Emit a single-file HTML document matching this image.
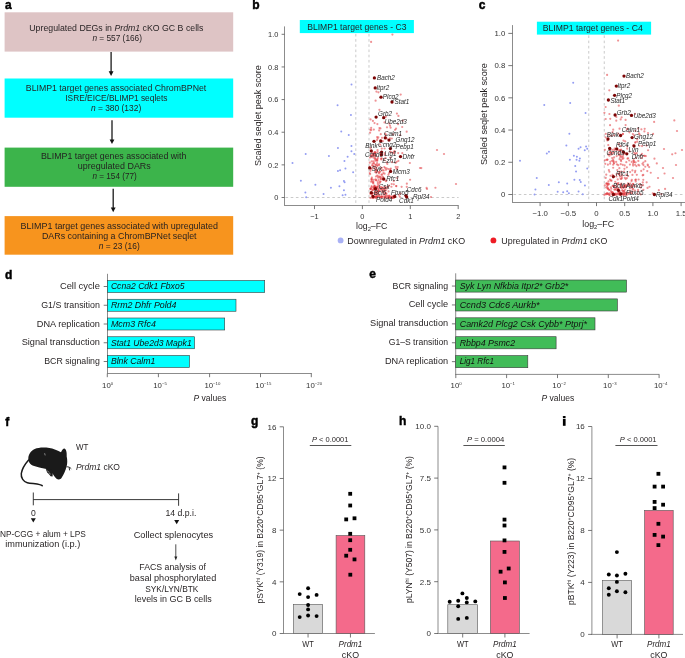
<!DOCTYPE html>
<html><head><meta charset="utf-8"><title>Figure</title>
<style>
html,body{margin:0;padding:0;background:#fff;width:685px;height:658px;overflow:hidden}
svg{display:block;will-change:transform}
text{font-family:"Liberation Sans",sans-serif}
</style></head><body>
<svg width="685" height="658" viewBox="0 0 685 658">
<rect width="685" height="658" fill="#fff"/>
<text x="4.90" y="9.10" font-size="12" text-anchor="start" fill="#000" font-weight="bold" stroke="#000" stroke-width="0.45">a</text>
<text x="252.20" y="9.00" font-size="12" text-anchor="start" fill="#000" font-weight="bold" stroke="#000" stroke-width="0.45">b</text>
<text x="478.70" y="9.20" font-size="12" text-anchor="start" fill="#000" font-weight="bold" stroke="#000" stroke-width="0.45">c</text>
<text x="5.10" y="278.70" font-size="12" text-anchor="start" fill="#000" font-weight="bold" stroke="#000" stroke-width="0.45">d</text>
<text x="369.30" y="277.60" font-size="12" text-anchor="start" fill="#000" font-weight="bold" stroke="#000" stroke-width="0.45">e</text>
<text x="5.30" y="426.10" font-size="12" text-anchor="start" fill="#000" font-weight="bold" stroke="#000" stroke-width="0.45">f</text>
<text x="250.90" y="424.80" font-size="12" text-anchor="start" fill="#000" font-weight="bold" stroke="#000" stroke-width="0.45">g</text>
<text x="398.90" y="425.00" font-size="12" text-anchor="start" fill="#000" font-weight="bold" stroke="#000" stroke-width="0.45">h</text>
<rect x="562.9" y="416.0" width="2.7" height="2.0" rx="0.6" fill="#000"/><rect x="562.9" y="418.8" width="2.7" height="7.0" fill="#000"/>
<rect x="4.60" y="12.30" width="228.60" height="39.30" fill="#dec4c5"/>
<rect x="4.60" y="78.50" width="228.60" height="39.20" fill="#00ffff"/>
<rect x="4.60" y="147.60" width="228.60" height="39.20" fill="#3cb44b"/>
<rect x="4.60" y="216.10" width="228.60" height="38.60" fill="#f7941e"/>
<text x="116.35" y="30.70" font-size="8.8" text-anchor="middle" fill="#231f20" textLength="174.1" lengthAdjust="spacingAndGlyphs">Upregulated DEGs in <tspan font-style="italic">Prdm1</tspan> cKO GC B cells</text>
<text x="117.20" y="40.90" font-size="8.8" text-anchor="middle" fill="#231f20" textLength="49.6" lengthAdjust="spacingAndGlyphs"><tspan font-style="italic">n</tspan> = 557 (166)</text>
<text x="116.05" y="91.30" font-size="8.8" text-anchor="middle" fill="#231f20" textLength="180.5" lengthAdjust="spacingAndGlyphs">BLIMP1 target genes associated ChromBPNet</text>
<text x="116.35" y="101.10" font-size="8.8" text-anchor="middle" fill="#231f20" textLength="102.1" lengthAdjust="spacingAndGlyphs">ISRE/EICE/BLIMP1 seqlets</text>
<text x="116.05" y="111.20" font-size="8.8" text-anchor="middle" fill="#231f20" textLength="50.3" lengthAdjust="spacingAndGlyphs"><tspan font-style="italic">n</tspan> = 380 (132)</text>
<text x="113.70" y="159.30" font-size="8.8" text-anchor="middle" fill="#231f20" textLength="145.4" lengthAdjust="spacingAndGlyphs">BLIMP1 target genes associated with</text>
<text x="114.30" y="169.10" font-size="8.8" text-anchor="middle" fill="#231f20" textLength="73.0" lengthAdjust="spacingAndGlyphs">upregulated DARs</text>
<text x="114.60" y="179.20" font-size="8.8" text-anchor="middle" fill="#231f20" textLength="44.4" lengthAdjust="spacingAndGlyphs"><tspan font-style="italic">n</tspan> = 154 (77)</text>
<text x="119.30" y="228.80" font-size="8.8" text-anchor="middle" fill="#231f20" textLength="197.4" lengthAdjust="spacingAndGlyphs">BLIMP1 target genes associated with upregulated</text>
<text x="119.25" y="238.90" font-size="8.8" text-anchor="middle" fill="#231f20" textLength="154.7" lengthAdjust="spacingAndGlyphs">DARs containing a ChromBPNet seqlet</text>
<text x="119.25" y="249.10" font-size="8.8" text-anchor="middle" fill="#231f20" textLength="40.9" lengthAdjust="spacingAndGlyphs"><tspan font-style="italic">n</tspan> = 23 (16)</text>
<line x1="111.10" y1="52.00" x2="111.10" y2="72.90" stroke="#1a1a1a" stroke-width="1.3"/>
<path d="M108.70,71.30 L113.50,71.30 L111.10,75.90 Z" fill="#111"/>
<line x1="112.00" y1="120.30" x2="112.00" y2="141.00" stroke="#1a1a1a" stroke-width="1.3"/>
<path d="M109.60,139.40 L114.40,139.40 L112.00,144.00 Z" fill="#111"/>
<line x1="113.20" y1="188.80" x2="113.20" y2="209.20" stroke="#1a1a1a" stroke-width="1.3"/>
<path d="M110.80,207.60 L115.60,207.60 L113.20,212.20 Z" fill="#111"/>
<rect x="299.80" y="20.00" width="114.10" height="13.10" fill="#00ffff"/>
<text x="356.85" y="30.30" font-size="8.6" text-anchor="middle" fill="#231f20" textLength="99.3" lengthAdjust="spacingAndGlyphs">BLIMP1 target genes - C3</text>
<line x1="355.81" y1="33.90" x2="355.81" y2="205.50" stroke="#bdbdbd" stroke-width="0.8" stroke-dasharray="2.6 2.6"/>
<line x1="368.99" y1="33.90" x2="368.99" y2="205.50" stroke="#bdbdbd" stroke-width="0.8" stroke-dasharray="2.6 2.6"/>
<line x1="285.50" y1="197.50" x2="458.60" y2="197.50" stroke="#bdbdbd" stroke-width="0.8" stroke-dasharray="2.6 2.6"/>
<circle cx="337.59" cy="105.35" r="1.0" fill="#949df2"/>
<circle cx="350.94" cy="115.03" r="1.0" fill="#949df2"/>
<circle cx="341.26" cy="131.39" r="1.0" fill="#949df2"/>
<circle cx="348.77" cy="135.07" r="1.0" fill="#949df2"/>
<circle cx="337.92" cy="147.92" r="1.0" fill="#949df2"/>
<circle cx="351.44" cy="145.92" r="1.0" fill="#949df2"/>
<circle cx="351.44" cy="151.26" r="1.0" fill="#949df2"/>
<circle cx="354.28" cy="153.93" r="1.0" fill="#949df2"/>
<circle cx="305.70" cy="154.10" r="1.0" fill="#949df2"/>
<circle cx="328.91" cy="155.93" r="1.0" fill="#949df2"/>
<circle cx="347.60" cy="156.77" r="1.0" fill="#949df2"/>
<circle cx="292.51" cy="162.95" r="1.0" fill="#949df2"/>
<circle cx="344.43" cy="160.94" r="1.0" fill="#949df2"/>
<circle cx="345.43" cy="168.46" r="1.0" fill="#949df2"/>
<circle cx="340.09" cy="170.13" r="1.0" fill="#949df2"/>
<circle cx="337.92" cy="170.96" r="1.0" fill="#949df2"/>
<circle cx="353.11" cy="172.13" r="1.0" fill="#949df2"/>
<circle cx="300.86" cy="180.64" r="1.0" fill="#949df2"/>
<circle cx="343.93" cy="180.98" r="1.0" fill="#949df2"/>
<circle cx="344.60" cy="182.31" r="1.0" fill="#949df2"/>
<circle cx="315.38" cy="184.82" r="1.0" fill="#949df2"/>
<circle cx="330.91" cy="187.65" r="1.0" fill="#949df2"/>
<circle cx="339.42" cy="186.32" r="1.0" fill="#949df2"/>
<circle cx="343.93" cy="190.16" r="1.0" fill="#949df2"/>
<circle cx="305.37" cy="192.50" r="1.0" fill="#949df2"/>
<circle cx="323.56" cy="194.00" r="1.0" fill="#949df2"/>
<circle cx="342.60" cy="195.17" r="1.0" fill="#949df2"/>
<circle cx="345.43" cy="194.67" r="1.0" fill="#949df2"/>
<circle cx="306.20" cy="197.17" r="1.0" fill="#949df2"/>
<circle cx="351.50" cy="84.60" r="1.0" fill="#949df2"/>
<circle cx="388.30" cy="169.05" r="1.1" fill="#e23a40" fill-opacity="0.55"/>
<circle cx="373.48" cy="187.29" r="1.1" fill="#e23a40" fill-opacity="0.55"/>
<circle cx="385.94" cy="116.71" r="1.1" fill="#e23a40" fill-opacity="0.55"/>
<circle cx="375.50" cy="197.16" r="1.1" fill="#e23a40" fill-opacity="0.55"/>
<circle cx="375.43" cy="165.03" r="1.1" fill="#e23a40" fill-opacity="0.55"/>
<circle cx="371.75" cy="194.20" r="1.1" fill="#e23a40" fill-opacity="0.55"/>
<circle cx="370.55" cy="119.39" r="1.1" fill="#e23a40" fill-opacity="0.55"/>
<circle cx="384.74" cy="153.21" r="1.1" fill="#e23a40" fill-opacity="0.55"/>
<circle cx="379.08" cy="173.45" r="1.1" fill="#e23a40" fill-opacity="0.55"/>
<circle cx="373.07" cy="182.63" r="1.1" fill="#e23a40" fill-opacity="0.55"/>
<circle cx="374.04" cy="193.00" r="1.1" fill="#e23a40" fill-opacity="0.55"/>
<circle cx="382.35" cy="179.37" r="1.1" fill="#e23a40" fill-opacity="0.55"/>
<circle cx="390.59" cy="127.70" r="1.1" fill="#e23a40" fill-opacity="0.55"/>
<circle cx="373.34" cy="155.90" r="1.1" fill="#e23a40" fill-opacity="0.55"/>
<circle cx="378.03" cy="186.50" r="1.1" fill="#e23a40" fill-opacity="0.55"/>
<circle cx="372.07" cy="195.50" r="1.1" fill="#e23a40" fill-opacity="0.55"/>
<circle cx="370.03" cy="157.54" r="1.1" fill="#e23a40" fill-opacity="0.55"/>
<circle cx="370.74" cy="168.56" r="1.1" fill="#e23a40" fill-opacity="0.55"/>
<circle cx="421.30" cy="168.08" r="1.1" fill="#e23a40" fill-opacity="0.55"/>
<circle cx="386.51" cy="162.36" r="1.1" fill="#e23a40" fill-opacity="0.55"/>
<circle cx="384.81" cy="138.40" r="1.1" fill="#e23a40" fill-opacity="0.55"/>
<circle cx="383.99" cy="160.01" r="1.1" fill="#e23a40" fill-opacity="0.55"/>
<circle cx="377.65" cy="152.07" r="1.1" fill="#e23a40" fill-opacity="0.55"/>
<circle cx="370.38" cy="188.93" r="1.1" fill="#e23a40" fill-opacity="0.55"/>
<circle cx="369.67" cy="166.90" r="1.1" fill="#e23a40" fill-opacity="0.55"/>
<circle cx="382.83" cy="141.16" r="1.1" fill="#e23a40" fill-opacity="0.55"/>
<circle cx="381.33" cy="159.40" r="1.1" fill="#e23a40" fill-opacity="0.55"/>
<circle cx="393.06" cy="134.39" r="1.1" fill="#e23a40" fill-opacity="0.55"/>
<circle cx="379.41" cy="195.05" r="1.1" fill="#e23a40" fill-opacity="0.55"/>
<circle cx="380.44" cy="128.41" r="1.1" fill="#e23a40" fill-opacity="0.55"/>
<circle cx="383.29" cy="190.00" r="1.1" fill="#e23a40" fill-opacity="0.55"/>
<circle cx="374.52" cy="123.11" r="1.1" fill="#e23a40" fill-opacity="0.55"/>
<circle cx="385.95" cy="193.55" r="1.1" fill="#e23a40" fill-opacity="0.55"/>
<circle cx="370.95" cy="155.48" r="1.1" fill="#e23a40" fill-opacity="0.55"/>
<circle cx="373.56" cy="155.33" r="1.1" fill="#e23a40" fill-opacity="0.55"/>
<circle cx="372.07" cy="165.46" r="1.1" fill="#e23a40" fill-opacity="0.55"/>
<circle cx="385.91" cy="187.22" r="1.1" fill="#e23a40" fill-opacity="0.55"/>
<circle cx="435.43" cy="187.73" r="1.1" fill="#e23a40" fill-opacity="0.55"/>
<circle cx="377.91" cy="188.36" r="1.1" fill="#e23a40" fill-opacity="0.55"/>
<circle cx="377.02" cy="140.11" r="1.1" fill="#e23a40" fill-opacity="0.55"/>
<circle cx="385.45" cy="157.93" r="1.1" fill="#e23a40" fill-opacity="0.55"/>
<circle cx="383.15" cy="187.78" r="1.1" fill="#e23a40" fill-opacity="0.55"/>
<circle cx="377.24" cy="186.43" r="1.1" fill="#e23a40" fill-opacity="0.55"/>
<circle cx="387.08" cy="188.39" r="1.1" fill="#e23a40" fill-opacity="0.55"/>
<circle cx="375.70" cy="159.02" r="1.1" fill="#e23a40" fill-opacity="0.55"/>
<circle cx="372.85" cy="190.08" r="1.1" fill="#e23a40" fill-opacity="0.55"/>
<circle cx="388.00" cy="186.86" r="1.1" fill="#e23a40" fill-opacity="0.55"/>
<circle cx="388.43" cy="174.78" r="1.1" fill="#e23a40" fill-opacity="0.55"/>
<circle cx="390.46" cy="157.63" r="1.1" fill="#e23a40" fill-opacity="0.55"/>
<circle cx="381.17" cy="153.52" r="1.1" fill="#e23a40" fill-opacity="0.55"/>
<circle cx="398.91" cy="194.77" r="1.1" fill="#e23a40" fill-opacity="0.55"/>
<circle cx="396.26" cy="186.04" r="1.1" fill="#e23a40" fill-opacity="0.55"/>
<circle cx="371.23" cy="130.09" r="1.1" fill="#e23a40" fill-opacity="0.55"/>
<circle cx="381.98" cy="196.69" r="1.1" fill="#e23a40" fill-opacity="0.55"/>
<circle cx="426.60" cy="187.90" r="1.1" fill="#e23a40" fill-opacity="0.55"/>
<circle cx="381.82" cy="158.35" r="1.1" fill="#e23a40" fill-opacity="0.55"/>
<circle cx="385.95" cy="190.37" r="1.1" fill="#e23a40" fill-opacity="0.55"/>
<circle cx="393.30" cy="152.48" r="1.1" fill="#e23a40" fill-opacity="0.55"/>
<circle cx="398.39" cy="160.92" r="1.1" fill="#e23a40" fill-opacity="0.55"/>
<circle cx="373.66" cy="166.53" r="1.1" fill="#e23a40" fill-opacity="0.55"/>
<circle cx="376.92" cy="170.09" r="1.1" fill="#e23a40" fill-opacity="0.55"/>
<circle cx="389.98" cy="138.23" r="1.1" fill="#e23a40" fill-opacity="0.55"/>
<circle cx="372.00" cy="193.21" r="1.1" fill="#e23a40" fill-opacity="0.55"/>
<circle cx="398.08" cy="124.17" r="1.1" fill="#e23a40" fill-opacity="0.55"/>
<circle cx="393.83" cy="184.35" r="1.1" fill="#e23a40" fill-opacity="0.55"/>
<circle cx="376.27" cy="167.56" r="1.1" fill="#e23a40" fill-opacity="0.55"/>
<circle cx="371.48" cy="179.38" r="1.1" fill="#e23a40" fill-opacity="0.55"/>
<circle cx="371.72" cy="155.82" r="1.1" fill="#e23a40" fill-opacity="0.55"/>
<circle cx="376.03" cy="191.52" r="1.1" fill="#e23a40" fill-opacity="0.55"/>
<circle cx="383.36" cy="173.12" r="1.1" fill="#e23a40" fill-opacity="0.55"/>
<circle cx="379.04" cy="190.85" r="1.1" fill="#e23a40" fill-opacity="0.55"/>
<circle cx="371.09" cy="181.63" r="1.1" fill="#e23a40" fill-opacity="0.55"/>
<circle cx="381.30" cy="189.67" r="1.1" fill="#e23a40" fill-opacity="0.55"/>
<circle cx="374.74" cy="186.31" r="1.1" fill="#e23a40" fill-opacity="0.55"/>
<circle cx="384.86" cy="196.51" r="1.1" fill="#e23a40" fill-opacity="0.55"/>
<circle cx="400.52" cy="193.57" r="1.1" fill="#e23a40" fill-opacity="0.55"/>
<circle cx="377.23" cy="160.86" r="1.1" fill="#e23a40" fill-opacity="0.55"/>
<circle cx="374.51" cy="152.23" r="1.1" fill="#e23a40" fill-opacity="0.55"/>
<circle cx="371.73" cy="187.17" r="1.1" fill="#e23a40" fill-opacity="0.55"/>
<circle cx="381.94" cy="187.99" r="1.1" fill="#e23a40" fill-opacity="0.55"/>
<circle cx="371.79" cy="179.89" r="1.1" fill="#e23a40" fill-opacity="0.55"/>
<circle cx="371.96" cy="168.67" r="1.1" fill="#e23a40" fill-opacity="0.55"/>
<circle cx="379.58" cy="176.65" r="1.1" fill="#e23a40" fill-opacity="0.55"/>
<circle cx="385.96" cy="169.80" r="1.1" fill="#e23a40" fill-opacity="0.55"/>
<circle cx="398.23" cy="153.12" r="1.1" fill="#e23a40" fill-opacity="0.55"/>
<circle cx="399.79" cy="196.57" r="1.1" fill="#e23a40" fill-opacity="0.55"/>
<circle cx="373.06" cy="165.55" r="1.1" fill="#e23a40" fill-opacity="0.55"/>
<circle cx="378.10" cy="177.74" r="1.1" fill="#e23a40" fill-opacity="0.55"/>
<circle cx="380.90" cy="158.61" r="1.1" fill="#e23a40" fill-opacity="0.55"/>
<circle cx="377.38" cy="124.12" r="1.1" fill="#e23a40" fill-opacity="0.55"/>
<circle cx="374.15" cy="189.03" r="1.1" fill="#e23a40" fill-opacity="0.55"/>
<circle cx="378.26" cy="193.98" r="1.1" fill="#e23a40" fill-opacity="0.55"/>
<circle cx="374.31" cy="163.55" r="1.1" fill="#e23a40" fill-opacity="0.55"/>
<circle cx="377.82" cy="182.20" r="1.1" fill="#e23a40" fill-opacity="0.55"/>
<circle cx="374.87" cy="158.97" r="1.1" fill="#e23a40" fill-opacity="0.55"/>
<circle cx="394.19" cy="153.49" r="1.1" fill="#e23a40" fill-opacity="0.55"/>
<circle cx="382.50" cy="170.31" r="1.1" fill="#e23a40" fill-opacity="0.55"/>
<circle cx="374.77" cy="167.23" r="1.1" fill="#e23a40" fill-opacity="0.55"/>
<circle cx="377.24" cy="166.02" r="1.1" fill="#e23a40" fill-opacity="0.55"/>
<circle cx="376.72" cy="194.42" r="1.1" fill="#e23a40" fill-opacity="0.55"/>
<circle cx="374.29" cy="188.06" r="1.1" fill="#e23a40" fill-opacity="0.55"/>
<circle cx="371.63" cy="178.80" r="1.1" fill="#e23a40" fill-opacity="0.55"/>
<circle cx="380.59" cy="186.83" r="1.1" fill="#e23a40" fill-opacity="0.55"/>
<circle cx="369.69" cy="173.03" r="1.1" fill="#e23a40" fill-opacity="0.55"/>
<circle cx="375.59" cy="179.29" r="1.1" fill="#e23a40" fill-opacity="0.55"/>
<circle cx="397.18" cy="178.07" r="1.1" fill="#e23a40" fill-opacity="0.55"/>
<circle cx="377.82" cy="183.93" r="1.1" fill="#e23a40" fill-opacity="0.55"/>
<circle cx="378.99" cy="196.08" r="1.1" fill="#e23a40" fill-opacity="0.55"/>
<circle cx="394.52" cy="151.00" r="1.1" fill="#e23a40" fill-opacity="0.55"/>
<circle cx="402.71" cy="120.71" r="1.1" fill="#e23a40" fill-opacity="0.55"/>
<circle cx="374.88" cy="186.81" r="1.1" fill="#e23a40" fill-opacity="0.55"/>
<circle cx="384.57" cy="188.74" r="1.1" fill="#e23a40" fill-opacity="0.55"/>
<circle cx="373.62" cy="162.95" r="1.1" fill="#e23a40" fill-opacity="0.55"/>
<circle cx="376.23" cy="172.84" r="1.1" fill="#e23a40" fill-opacity="0.55"/>
<circle cx="374.81" cy="169.02" r="1.1" fill="#e23a40" fill-opacity="0.55"/>
<circle cx="374.80" cy="187.25" r="1.1" fill="#e23a40" fill-opacity="0.55"/>
<circle cx="374.30" cy="186.22" r="1.1" fill="#e23a40" fill-opacity="0.55"/>
<circle cx="379.07" cy="164.27" r="1.1" fill="#e23a40" fill-opacity="0.55"/>
<circle cx="377.65" cy="191.56" r="1.1" fill="#e23a40" fill-opacity="0.55"/>
<circle cx="378.98" cy="185.30" r="1.1" fill="#e23a40" fill-opacity="0.55"/>
<circle cx="379.48" cy="171.94" r="1.1" fill="#e23a40" fill-opacity="0.55"/>
<circle cx="384.66" cy="188.83" r="1.1" fill="#e23a40" fill-opacity="0.55"/>
<circle cx="381.76" cy="167.73" r="1.1" fill="#e23a40" fill-opacity="0.55"/>
<circle cx="380.52" cy="181.61" r="1.1" fill="#e23a40" fill-opacity="0.55"/>
<circle cx="389.27" cy="123.54" r="1.1" fill="#e23a40" fill-opacity="0.55"/>
<circle cx="370.30" cy="193.79" r="1.1" fill="#e23a40" fill-opacity="0.55"/>
<circle cx="370.82" cy="189.17" r="1.1" fill="#e23a40" fill-opacity="0.55"/>
<circle cx="371.15" cy="127.95" r="1.1" fill="#e23a40" fill-opacity="0.55"/>
<circle cx="374.93" cy="152.14" r="1.1" fill="#e23a40" fill-opacity="0.55"/>
<circle cx="373.32" cy="183.47" r="1.1" fill="#e23a40" fill-opacity="0.55"/>
<circle cx="389.04" cy="185.69" r="1.1" fill="#e23a40" fill-opacity="0.55"/>
<circle cx="377.06" cy="163.14" r="1.1" fill="#e23a40" fill-opacity="0.55"/>
<circle cx="377.44" cy="165.04" r="1.1" fill="#e23a40" fill-opacity="0.55"/>
<circle cx="396.02" cy="128.69" r="1.1" fill="#e23a40" fill-opacity="0.55"/>
<circle cx="370.83" cy="188.32" r="1.1" fill="#e23a40" fill-opacity="0.55"/>
<circle cx="406.85" cy="183.67" r="1.1" fill="#e23a40" fill-opacity="0.55"/>
<circle cx="380.74" cy="154.57" r="1.1" fill="#e23a40" fill-opacity="0.55"/>
<circle cx="376.40" cy="160.30" r="1.1" fill="#e23a40" fill-opacity="0.55"/>
<circle cx="385.94" cy="134.77" r="1.1" fill="#e23a40" fill-opacity="0.55"/>
<circle cx="380.10" cy="181.73" r="1.1" fill="#e23a40" fill-opacity="0.55"/>
<circle cx="409.86" cy="162.98" r="1.1" fill="#e23a40" fill-opacity="0.55"/>
<circle cx="384.53" cy="173.67" r="1.1" fill="#e23a40" fill-opacity="0.55"/>
<circle cx="377.22" cy="159.97" r="1.1" fill="#e23a40" fill-opacity="0.55"/>
<circle cx="383.67" cy="170.39" r="1.1" fill="#e23a40" fill-opacity="0.55"/>
<circle cx="389.49" cy="195.67" r="1.1" fill="#e23a40" fill-opacity="0.55"/>
<circle cx="382.02" cy="137.79" r="1.1" fill="#e23a40" fill-opacity="0.55"/>
<circle cx="374.54" cy="187.33" r="1.1" fill="#e23a40" fill-opacity="0.55"/>
<circle cx="396.24" cy="186.12" r="1.1" fill="#e23a40" fill-opacity="0.55"/>
<circle cx="376.19" cy="192.23" r="1.1" fill="#e23a40" fill-opacity="0.55"/>
<circle cx="373.34" cy="188.68" r="1.1" fill="#e23a40" fill-opacity="0.55"/>
<circle cx="377.10" cy="175.58" r="1.1" fill="#e23a40" fill-opacity="0.55"/>
<circle cx="378.18" cy="192.16" r="1.1" fill="#e23a40" fill-opacity="0.55"/>
<circle cx="378.56" cy="180.22" r="1.1" fill="#e23a40" fill-opacity="0.55"/>
<circle cx="394.35" cy="151.94" r="1.1" fill="#e23a40" fill-opacity="0.55"/>
<circle cx="402.31" cy="153.18" r="1.1" fill="#e23a40" fill-opacity="0.55"/>
<circle cx="388.02" cy="195.78" r="1.1" fill="#e23a40" fill-opacity="0.55"/>
<circle cx="374.16" cy="189.43" r="1.1" fill="#e23a40" fill-opacity="0.55"/>
<circle cx="382.40" cy="189.36" r="1.1" fill="#e23a40" fill-opacity="0.55"/>
<circle cx="379.79" cy="197.22" r="1.1" fill="#e23a40" fill-opacity="0.55"/>
<circle cx="373.37" cy="154.97" r="1.1" fill="#e23a40" fill-opacity="0.55"/>
<circle cx="372.34" cy="190.27" r="1.1" fill="#e23a40" fill-opacity="0.55"/>
<circle cx="377.19" cy="171.50" r="1.1" fill="#e23a40" fill-opacity="0.55"/>
<circle cx="372.27" cy="181.58" r="1.1" fill="#e23a40" fill-opacity="0.55"/>
<circle cx="390.01" cy="169.30" r="1.1" fill="#e23a40" fill-opacity="0.55"/>
<circle cx="385.20" cy="168.02" r="1.1" fill="#e23a40" fill-opacity="0.55"/>
<circle cx="380.19" cy="144.55" r="1.1" fill="#e23a40" fill-opacity="0.55"/>
<circle cx="379.17" cy="130.46" r="1.1" fill="#e23a40" fill-opacity="0.55"/>
<circle cx="382.11" cy="174.69" r="1.1" fill="#e23a40" fill-opacity="0.55"/>
<circle cx="375.62" cy="152.71" r="1.1" fill="#e23a40" fill-opacity="0.55"/>
<circle cx="378.90" cy="191.29" r="1.1" fill="#e23a40" fill-opacity="0.55"/>
<circle cx="397.22" cy="169.01" r="1.1" fill="#e23a40" fill-opacity="0.55"/>
<circle cx="395.55" cy="162.93" r="1.1" fill="#e23a40" fill-opacity="0.55"/>
<circle cx="375.89" cy="176.50" r="1.1" fill="#e23a40" fill-opacity="0.55"/>
<circle cx="391.68" cy="184.01" r="1.1" fill="#e23a40" fill-opacity="0.55"/>
<circle cx="375.33" cy="160.73" r="1.1" fill="#e23a40" fill-opacity="0.55"/>
<circle cx="384.64" cy="191.70" r="1.1" fill="#e23a40" fill-opacity="0.55"/>
<circle cx="377.85" cy="157.96" r="1.1" fill="#e23a40" fill-opacity="0.55"/>
<circle cx="385.46" cy="193.19" r="1.1" fill="#e23a40" fill-opacity="0.55"/>
<circle cx="380.98" cy="189.64" r="1.1" fill="#e23a40" fill-opacity="0.55"/>
<circle cx="378.31" cy="189.35" r="1.1" fill="#e23a40" fill-opacity="0.55"/>
<circle cx="378.09" cy="176.35" r="1.1" fill="#e23a40" fill-opacity="0.55"/>
<circle cx="395.02" cy="129.85" r="1.1" fill="#e23a40" fill-opacity="0.55"/>
<circle cx="383.12" cy="191.92" r="1.1" fill="#e23a40" fill-opacity="0.55"/>
<circle cx="376.25" cy="180.24" r="1.1" fill="#e23a40" fill-opacity="0.55"/>
<circle cx="381.86" cy="187.30" r="1.1" fill="#e23a40" fill-opacity="0.55"/>
<circle cx="376.50" cy="187.59" r="1.1" fill="#e23a40" fill-opacity="0.55"/>
<circle cx="379.01" cy="165.24" r="1.1" fill="#e23a40" fill-opacity="0.55"/>
<circle cx="386.51" cy="195.57" r="1.1" fill="#e23a40" fill-opacity="0.55"/>
<circle cx="377.64" cy="138.50" r="1.1" fill="#e23a40" fill-opacity="0.55"/>
<circle cx="400.14" cy="135.14" r="1.1" fill="#e23a40" fill-opacity="0.55"/>
<circle cx="385.87" cy="181.16" r="1.1" fill="#e23a40" fill-opacity="0.55"/>
<circle cx="390.25" cy="151.77" r="1.1" fill="#e23a40" fill-opacity="0.55"/>
<circle cx="386.49" cy="193.68" r="1.1" fill="#e23a40" fill-opacity="0.55"/>
<circle cx="384.79" cy="193.50" r="1.1" fill="#e23a40" fill-opacity="0.55"/>
<circle cx="384.80" cy="187.44" r="1.1" fill="#e23a40" fill-opacity="0.55"/>
<circle cx="385.24" cy="133.73" r="1.1" fill="#e23a40" fill-opacity="0.55"/>
<circle cx="373.01" cy="153.29" r="1.1" fill="#e23a40" fill-opacity="0.55"/>
<circle cx="384.37" cy="190.46" r="1.1" fill="#e23a40" fill-opacity="0.55"/>
<circle cx="389.04" cy="173.22" r="1.1" fill="#e23a40" fill-opacity="0.55"/>
<circle cx="370.51" cy="170.79" r="1.1" fill="#e23a40" fill-opacity="0.55"/>
<circle cx="377.29" cy="159.41" r="1.1" fill="#e23a40" fill-opacity="0.55"/>
<circle cx="373.83" cy="129.56" r="1.1" fill="#e23a40" fill-opacity="0.55"/>
<circle cx="375.90" cy="170.93" r="1.1" fill="#e23a40" fill-opacity="0.55"/>
<circle cx="383.36" cy="194.31" r="1.1" fill="#e23a40" fill-opacity="0.55"/>
<circle cx="385.40" cy="137.19" r="1.1" fill="#e23a40" fill-opacity="0.55"/>
<circle cx="371.55" cy="157.10" r="1.1" fill="#e23a40" fill-opacity="0.55"/>
<circle cx="371.61" cy="186.21" r="1.1" fill="#e23a40" fill-opacity="0.55"/>
<circle cx="370.17" cy="174.10" r="1.1" fill="#e23a40" fill-opacity="0.55"/>
<circle cx="372.58" cy="163.76" r="1.1" fill="#e23a40" fill-opacity="0.55"/>
<circle cx="391.40" cy="186.75" r="1.1" fill="#e23a40" fill-opacity="0.55"/>
<circle cx="382.96" cy="176.86" r="1.1" fill="#e23a40" fill-opacity="0.55"/>
<circle cx="377.54" cy="150.18" r="1.1" fill="#e23a40" fill-opacity="0.55"/>
<circle cx="374.53" cy="187.53" r="1.1" fill="#e23a40" fill-opacity="0.55"/>
<circle cx="396.70" cy="161.86" r="1.1" fill="#e23a40" fill-opacity="0.55"/>
<circle cx="374.70" cy="153.59" r="1.1" fill="#e23a40" fill-opacity="0.55"/>
<circle cx="377.20" cy="187.27" r="1.1" fill="#e23a40" fill-opacity="0.55"/>
<circle cx="376.32" cy="169.59" r="1.1" fill="#e23a40" fill-opacity="0.55"/>
<circle cx="376.08" cy="164.76" r="1.1" fill="#e23a40" fill-opacity="0.55"/>
<circle cx="380.46" cy="178.59" r="1.1" fill="#e23a40" fill-opacity="0.55"/>
<circle cx="378.34" cy="137.23" r="1.1" fill="#e23a40" fill-opacity="0.55"/>
<circle cx="376.36" cy="193.27" r="1.1" fill="#e23a40" fill-opacity="0.55"/>
<circle cx="393.78" cy="181.05" r="1.1" fill="#e23a40" fill-opacity="0.55"/>
<circle cx="370.13" cy="132.70" r="1.1" fill="#e23a40" fill-opacity="0.55"/>
<circle cx="380.76" cy="179.16" r="1.1" fill="#e23a40" fill-opacity="0.55"/>
<circle cx="384.32" cy="179.46" r="1.1" fill="#e23a40" fill-opacity="0.55"/>
<circle cx="375.01" cy="157.65" r="1.1" fill="#e23a40" fill-opacity="0.55"/>
<circle cx="397.67" cy="166.99" r="1.1" fill="#e23a40" fill-opacity="0.55"/>
<circle cx="391.86" cy="138.49" r="1.1" fill="#e23a40" fill-opacity="0.55"/>
<circle cx="373.44" cy="157.77" r="1.1" fill="#e23a40" fill-opacity="0.55"/>
<circle cx="375.04" cy="153.06" r="1.1" fill="#e23a40" fill-opacity="0.55"/>
<circle cx="375.81" cy="155.57" r="1.1" fill="#e23a40" fill-opacity="0.55"/>
<circle cx="378.58" cy="172.29" r="1.1" fill="#e23a40" fill-opacity="0.55"/>
<circle cx="388.53" cy="191.47" r="1.1" fill="#e23a40" fill-opacity="0.55"/>
<circle cx="375.10" cy="172.01" r="1.1" fill="#e23a40" fill-opacity="0.55"/>
<circle cx="386.86" cy="138.59" r="1.1" fill="#e23a40" fill-opacity="0.55"/>
<circle cx="384.32" cy="167.11" r="1.1" fill="#e23a40" fill-opacity="0.55"/>
<circle cx="372.89" cy="196.44" r="1.1" fill="#e23a40" fill-opacity="0.55"/>
<circle cx="373.72" cy="179.78" r="1.1" fill="#e23a40" fill-opacity="0.55"/>
<circle cx="370.69" cy="188.78" r="1.1" fill="#e23a40" fill-opacity="0.55"/>
<circle cx="406.78" cy="186.83" r="1.1" fill="#e23a40" fill-opacity="0.55"/>
<circle cx="391.31" cy="152.44" r="1.1" fill="#e23a40" fill-opacity="0.55"/>
<circle cx="392.06" cy="162.20" r="1.1" fill="#e23a40" fill-opacity="0.55"/>
<circle cx="374.27" cy="154.85" r="1.1" fill="#e23a40" fill-opacity="0.55"/>
<circle cx="370.64" cy="147.90" r="1.1" fill="#e23a40" fill-opacity="0.55"/>
<circle cx="387.31" cy="163.96" r="1.1" fill="#e23a40" fill-opacity="0.55"/>
<circle cx="379.69" cy="183.06" r="1.1" fill="#e23a40" fill-opacity="0.55"/>
<circle cx="380.73" cy="168.48" r="1.1" fill="#e23a40" fill-opacity="0.55"/>
<circle cx="386.64" cy="168.45" r="1.1" fill="#e23a40" fill-opacity="0.55"/>
<circle cx="384.60" cy="148.50" r="1.1" fill="#e23a40" fill-opacity="0.55"/>
<circle cx="390.86" cy="168.72" r="1.1" fill="#e23a40" fill-opacity="0.55"/>
<circle cx="373.48" cy="161.35" r="1.1" fill="#e23a40" fill-opacity="0.55"/>
<circle cx="375.50" cy="155.74" r="1.1" fill="#e23a40" fill-opacity="0.55"/>
<circle cx="386.49" cy="180.60" r="1.1" fill="#e23a40" fill-opacity="0.55"/>
<circle cx="376.13" cy="180.29" r="1.1" fill="#e23a40" fill-opacity="0.55"/>
<circle cx="380.77" cy="134.17" r="1.1" fill="#e23a40" fill-opacity="0.55"/>
<circle cx="377.09" cy="137.03" r="1.1" fill="#e23a40" fill-opacity="0.55"/>
<circle cx="381.41" cy="177.31" r="1.1" fill="#e23a40" fill-opacity="0.55"/>
<circle cx="375.60" cy="187.20" r="1.1" fill="#e23a40" fill-opacity="0.55"/>
<circle cx="369.79" cy="162.65" r="1.1" fill="#e23a40" fill-opacity="0.55"/>
<circle cx="375.22" cy="191.48" r="1.1" fill="#e23a40" fill-opacity="0.55"/>
<circle cx="381.42" cy="174.63" r="1.1" fill="#e23a40" fill-opacity="0.55"/>
<circle cx="374.53" cy="185.69" r="1.1" fill="#e23a40" fill-opacity="0.55"/>
<circle cx="406.68" cy="131.64" r="1.1" fill="#e23a40" fill-opacity="0.55"/>
<circle cx="395.73" cy="166.97" r="1.1" fill="#e23a40" fill-opacity="0.55"/>
<circle cx="389.51" cy="196.22" r="1.1" fill="#e23a40" fill-opacity="0.55"/>
<circle cx="371.66" cy="161.31" r="1.1" fill="#e23a40" fill-opacity="0.55"/>
<circle cx="375.46" cy="188.70" r="1.1" fill="#e23a40" fill-opacity="0.55"/>
<circle cx="373.34" cy="181.79" r="1.1" fill="#e23a40" fill-opacity="0.55"/>
<circle cx="378.73" cy="190.02" r="1.1" fill="#e23a40" fill-opacity="0.55"/>
<circle cx="375.36" cy="194.06" r="1.1" fill="#e23a40" fill-opacity="0.55"/>
<circle cx="376.16" cy="188.78" r="1.1" fill="#e23a40" fill-opacity="0.55"/>
<circle cx="371.39" cy="155.29" r="1.1" fill="#e23a40" fill-opacity="0.55"/>
<circle cx="410.10" cy="179.73" r="1.1" fill="#e23a40" fill-opacity="0.55"/>
<circle cx="375.92" cy="188.42" r="1.1" fill="#e23a40" fill-opacity="0.55"/>
<circle cx="372.88" cy="153.93" r="1.1" fill="#e23a40" fill-opacity="0.55"/>
<circle cx="381.79" cy="148.57" r="1.1" fill="#e23a40" fill-opacity="0.55"/>
<circle cx="372.23" cy="193.53" r="1.1" fill="#e23a40" fill-opacity="0.55"/>
<circle cx="396.37" cy="168.74" r="1.1" fill="#e23a40" fill-opacity="0.55"/>
<circle cx="384.65" cy="154.77" r="1.1" fill="#e23a40" fill-opacity="0.55"/>
<circle cx="375.37" cy="152.88" r="1.1" fill="#e23a40" fill-opacity="0.55"/>
<circle cx="370.36" cy="129.75" r="1.1" fill="#e23a40" fill-opacity="0.55"/>
<circle cx="374.76" cy="189.09" r="1.1" fill="#e23a40" fill-opacity="0.55"/>
<circle cx="377.09" cy="197.33" r="1.1" fill="#e23a40" fill-opacity="0.55"/>
<circle cx="379.96" cy="177.01" r="1.1" fill="#e23a40" fill-opacity="0.55"/>
<circle cx="401.63" cy="186.81" r="1.1" fill="#e23a40" fill-opacity="0.55"/>
<circle cx="394.23" cy="195.55" r="1.1" fill="#e23a40" fill-opacity="0.55"/>
<circle cx="380.38" cy="171.50" r="1.1" fill="#e23a40" fill-opacity="0.55"/>
<circle cx="382.00" cy="191.82" r="1.1" fill="#e23a40" fill-opacity="0.55"/>
<circle cx="379.89" cy="188.03" r="1.1" fill="#e23a40" fill-opacity="0.55"/>
<circle cx="371.84" cy="177.56" r="1.1" fill="#e23a40" fill-opacity="0.55"/>
<circle cx="391.93" cy="197.57" r="1.1" fill="#e23a40" fill-opacity="0.55"/>
<circle cx="388.94" cy="197.62" r="1.1" fill="#e23a40" fill-opacity="0.55"/>
<circle cx="389.24" cy="197.80" r="1.1" fill="#e23a40" fill-opacity="0.55"/>
<circle cx="373.41" cy="197.83" r="1.1" fill="#e23a40" fill-opacity="0.55"/>
<circle cx="376.58" cy="196.69" r="1.1" fill="#e23a40" fill-opacity="0.55"/>
<circle cx="391.99" cy="196.25" r="1.1" fill="#e23a40" fill-opacity="0.55"/>
<circle cx="381.80" cy="196.89" r="1.1" fill="#e23a40" fill-opacity="0.55"/>
<circle cx="388.79" cy="197.42" r="1.1" fill="#e23a40" fill-opacity="0.55"/>
<circle cx="391.78" cy="198.07" r="1.1" fill="#e23a40" fill-opacity="0.55"/>
<circle cx="385.11" cy="196.33" r="1.1" fill="#e23a40" fill-opacity="0.55"/>
<circle cx="385.68" cy="196.42" r="1.1" fill="#e23a40" fill-opacity="0.55"/>
<circle cx="393.55" cy="197.94" r="1.1" fill="#e23a40" fill-opacity="0.55"/>
<circle cx="376.77" cy="196.57" r="1.1" fill="#e23a40" fill-opacity="0.55"/>
<circle cx="386.36" cy="197.72" r="1.1" fill="#e23a40" fill-opacity="0.55"/>
<circle cx="393.63" cy="197.45" r="1.1" fill="#e23a40" fill-opacity="0.55"/>
<circle cx="372.13" cy="197.65" r="1.1" fill="#e23a40" fill-opacity="0.55"/>
<circle cx="370.46" cy="197.94" r="1.1" fill="#e23a40" fill-opacity="0.55"/>
<circle cx="388.22" cy="197.77" r="1.1" fill="#e23a40" fill-opacity="0.55"/>
<circle cx="390.84" cy="197.34" r="1.1" fill="#e23a40" fill-opacity="0.55"/>
<circle cx="392.59" cy="197.48" r="1.1" fill="#e23a40" fill-opacity="0.55"/>
<circle cx="381.30" cy="196.97" r="1.1" fill="#e23a40" fill-opacity="0.55"/>
<circle cx="377.83" cy="196.25" r="1.1" fill="#e23a40" fill-opacity="0.55"/>
<circle cx="373.03" cy="197.79" r="1.1" fill="#e23a40" fill-opacity="0.55"/>
<circle cx="374.72" cy="197.51" r="1.1" fill="#e23a40" fill-opacity="0.55"/>
<circle cx="388.38" cy="197.59" r="1.1" fill="#e23a40" fill-opacity="0.55"/>
<circle cx="381.90" cy="196.83" r="1.1" fill="#e23a40" fill-opacity="0.55"/>
<circle cx="375.82" cy="196.57" r="1.1" fill="#e23a40" fill-opacity="0.55"/>
<circle cx="385.20" cy="197.57" r="1.1" fill="#e23a40" fill-opacity="0.55"/>
<circle cx="392.56" cy="196.86" r="1.1" fill="#e23a40" fill-opacity="0.55"/>
<circle cx="392.18" cy="198.02" r="1.1" fill="#e23a40" fill-opacity="0.55"/>
<circle cx="376.26" cy="198.10" r="1.1" fill="#e23a40" fill-opacity="0.55"/>
<circle cx="384.48" cy="198.13" r="1.1" fill="#e23a40" fill-opacity="0.55"/>
<circle cx="388.35" cy="196.87" r="1.1" fill="#e23a40" fill-opacity="0.55"/>
<circle cx="375.98" cy="197.25" r="1.1" fill="#e23a40" fill-opacity="0.55"/>
<circle cx="381.20" cy="196.27" r="1.1" fill="#e23a40" fill-opacity="0.55"/>
<circle cx="390.56" cy="197.27" r="1.1" fill="#e23a40" fill-opacity="0.55"/>
<circle cx="380.83" cy="197.69" r="1.1" fill="#e23a40" fill-opacity="0.55"/>
<circle cx="375.24" cy="196.60" r="1.1" fill="#e23a40" fill-opacity="0.55"/>
<circle cx="383.52" cy="196.68" r="1.1" fill="#e23a40" fill-opacity="0.55"/>
<circle cx="377.19" cy="196.34" r="1.1" fill="#e23a40" fill-opacity="0.55"/>
<circle cx="392.40" cy="34.60" r="1.1" fill="#e23a40" fill-opacity="0.55"/>
<circle cx="371.10" cy="41.90" r="1.1" fill="#e23a40" fill-opacity="0.55"/>
<circle cx="376.40" cy="91.60" r="1.1" fill="#e23a40" fill-opacity="0.55"/>
<circle cx="378.40" cy="92.30" r="1.1" fill="#e23a40" fill-opacity="0.55"/>
<circle cx="400.70" cy="94.60" r="1.1" fill="#e23a40" fill-opacity="0.55"/>
<circle cx="375.60" cy="100.70" r="1.1" fill="#e23a40" fill-opacity="0.55"/>
<circle cx="379.40" cy="109.80" r="1.1" fill="#e23a40" fill-opacity="0.55"/>
<circle cx="396.90" cy="113.60" r="1.1" fill="#e23a40" fill-opacity="0.55"/>
<circle cx="398.40" cy="115.90" r="1.1" fill="#e23a40" fill-opacity="0.55"/>
<circle cx="372.90" cy="120.90" r="1.1" fill="#e23a40" fill-opacity="0.55"/>
<circle cx="384.50" cy="122.40" r="1.1" fill="#e23a40" fill-opacity="0.55"/>
<circle cx="379.40" cy="128.00" r="1.1" fill="#e23a40" fill-opacity="0.55"/>
<circle cx="387.00" cy="127.30" r="1.1" fill="#e23a40" fill-opacity="0.55"/>
<circle cx="390.00" cy="125.70" r="1.1" fill="#e23a40" fill-opacity="0.55"/>
<circle cx="402.20" cy="127.00" r="1.1" fill="#e23a40" fill-opacity="0.55"/>
<circle cx="437.00" cy="150.00" r="1.1" fill="#e23a40" fill-opacity="0.55"/>
<circle cx="456.00" cy="184.00" r="1.1" fill="#e23a40" fill-opacity="0.55"/>
<circle cx="444.00" cy="154.00" r="1.1" fill="#e23a40" fill-opacity="0.55"/>
<circle cx="420.00" cy="168.00" r="1.1" fill="#e23a40" fill-opacity="0.55"/>
<circle cx="427.00" cy="189.00" r="1.1" fill="#e23a40" fill-opacity="0.55"/>
<circle cx="431.00" cy="197.00" r="1.1" fill="#e23a40" fill-opacity="0.55"/>
<circle cx="374.40" cy="77.90" r="1.65" fill="#7d0505"/>
<circle cx="375.20" cy="87.90" r="1.65" fill="#7d0505"/>
<circle cx="381.00" cy="97.20" r="1.65" fill="#7d0505"/>
<circle cx="392.00" cy="102.00" r="1.65" fill="#7d0505"/>
<circle cx="376.10" cy="117.10" r="1.65" fill="#7d0505"/>
<circle cx="383.70" cy="117.70" r="1.65" fill="#7d0505"/>
<circle cx="385.30" cy="137.80" r="1.65" fill="#7d0505"/>
<circle cx="389.00" cy="140.10" r="1.65" fill="#7d0505"/>
<circle cx="380.70" cy="141.00" r="1.65" fill="#7d0505"/>
<circle cx="374.00" cy="141.30" r="1.65" fill="#7d0505"/>
<circle cx="390.40" cy="148.60" r="1.65" fill="#7d0505"/>
<circle cx="371.30" cy="151.00" r="1.65" fill="#7d0505"/>
<circle cx="381.60" cy="152.10" r="1.65" fill="#7d0505"/>
<circle cx="381.40" cy="154.70" r="1.65" fill="#7d0505"/>
<circle cx="400.50" cy="156.60" r="1.65" fill="#7d0505"/>
<circle cx="369.70" cy="167.90" r="1.65" fill="#7d0505"/>
<circle cx="390.60" cy="171.40" r="1.65" fill="#7d0505"/>
<circle cx="383.70" cy="179.00" r="1.65" fill="#7d0505"/>
<circle cx="375.50" cy="188.70" r="1.65" fill="#7d0505"/>
<circle cx="371.30" cy="192.70" r="1.65" fill="#7d0505"/>
<circle cx="394.70" cy="196.50" r="1.65" fill="#7d0505"/>
<circle cx="405.90" cy="195.60" r="1.65" fill="#7d0505"/>
<circle cx="406.70" cy="197.10" r="1.65" fill="#7d0505"/>
<circle cx="373.10" cy="196.50" r="1.65" fill="#7d0505"/>
<text x="377.00" y="80.10" font-size="6.3" text-anchor="start" fill="#262626" font-style="italic">Bach2</text>
<text x="376.60" y="90.10" font-size="6.3" text-anchor="start" fill="#262626" font-style="italic">Itpr2</text>
<text x="382.80" y="99.00" font-size="6.3" text-anchor="start" fill="#262626" font-style="italic">Plcg2</text>
<text x="394.50" y="104.40" font-size="6.3" text-anchor="start" fill="#262626" font-style="italic">Stat1</text>
<text x="378.00" y="116.30" font-size="6.3" text-anchor="start" fill="#262626" font-style="italic">Grb2</text>
<text x="384.80" y="124.30" font-size="6.3" text-anchor="start" fill="#262626" font-style="italic">Ube2d3</text>
<text x="383.90" y="135.60" font-size="6.3" text-anchor="start" fill="#262626" font-style="italic">Calm1</text>
<text x="395.60" y="142.30" font-size="6.3" text-anchor="start" fill="#262626" font-style="italic">Gng12</text>
<text x="0.00" y="0.00" font-size="6.3" text-anchor="start" fill="#262626" font-style="italic"></text>
<text x="0.00" y="0.00" font-size="6.3" text-anchor="start" fill="#262626" font-style="italic"></text>
<text x="395.60" y="149.30" font-size="6.3" text-anchor="start" fill="#262626" font-style="italic">Pebp1</text>
<text x="0.00" y="0.00" font-size="6.3" text-anchor="start" fill="#262626" font-style="italic"></text>
<text x="0.00" y="0.00" font-size="6.3" text-anchor="start" fill="#262626" font-style="italic"></text>
<text x="0.00" y="0.00" font-size="6.3" text-anchor="start" fill="#262626" font-style="italic"></text>
<text x="402.60" y="158.80" font-size="6.3" text-anchor="start" fill="#262626" font-style="italic">Dhfr</text>
<text x="371.70" y="171.00" font-size="6.3" text-anchor="start" fill="#262626" font-style="italic">Syk</text>
<text x="392.70" y="173.60" font-size="6.3" text-anchor="start" fill="#262626" font-style="italic">Mcm3</text>
<text x="386.30" y="180.60" font-size="6.3" text-anchor="start" fill="#262626" font-style="italic">Rfc1</text>
<text x="378.70" y="188.80" font-size="6.3" text-anchor="start" fill="#262626" font-style="italic">Csk</text>
<text x="373.80" y="195.20" font-size="6.3" text-anchor="start" fill="#262626" font-style="italic">Bcl6</text>
<text x="0.00" y="0.00" font-size="6.3" text-anchor="start" fill="#262626" font-style="italic"></text>
<text x="0.00" y="0.00" font-size="6.3" text-anchor="start" fill="#262626" font-style="italic"></text>
<text x="0.00" y="0.00" font-size="6.3" text-anchor="start" fill="#262626" font-style="italic"></text>
<text x="0.00" y="0.00" font-size="6.3" text-anchor="start" fill="#262626" font-style="italic"></text>
<line x1="284.50" y1="26.40" x2="284.50" y2="206.00" stroke="#8c8c8c" stroke-width="1.0"/>
<line x1="284.00" y1="205.50" x2="458.60" y2="205.50" stroke="#8c8c8c" stroke-width="1.0"/>
<line x1="281.60" y1="197.50" x2="284.50" y2="197.50" stroke="#555" stroke-width="0.8"/>
<text x="278.40" y="200.20" font-size="7.4" text-anchor="end" fill="#333">0</text>
<line x1="281.60" y1="164.86" x2="284.50" y2="164.86" stroke="#555" stroke-width="0.8"/>
<text x="278.40" y="167.56" font-size="7.4" text-anchor="end" fill="#333">0.2</text>
<line x1="281.60" y1="132.22" x2="284.50" y2="132.22" stroke="#555" stroke-width="0.8"/>
<text x="278.40" y="134.92" font-size="7.4" text-anchor="end" fill="#333">0.4</text>
<line x1="281.60" y1="99.58" x2="284.50" y2="99.58" stroke="#555" stroke-width="0.8"/>
<text x="278.40" y="102.28" font-size="7.4" text-anchor="end" fill="#333">0.6</text>
<line x1="281.60" y1="66.94" x2="284.50" y2="66.94" stroke="#555" stroke-width="0.8"/>
<text x="278.40" y="69.64" font-size="7.4" text-anchor="end" fill="#333">0.8</text>
<line x1="281.60" y1="34.30" x2="284.50" y2="34.30" stroke="#555" stroke-width="0.8"/>
<text x="278.40" y="37.00" font-size="7.4" text-anchor="end" fill="#333">1.0</text>
<line x1="314.50" y1="205.50" x2="314.50" y2="209.10" stroke="#555" stroke-width="0.8"/>
<text x="314.50" y="218.90" font-size="7.4" text-anchor="middle" fill="#333">−1</text>
<line x1="362.40" y1="205.50" x2="362.40" y2="209.10" stroke="#555" stroke-width="0.8"/>
<text x="362.40" y="218.90" font-size="7.4" text-anchor="middle" fill="#333">0</text>
<line x1="410.30" y1="205.50" x2="410.30" y2="209.10" stroke="#555" stroke-width="0.8"/>
<text x="410.30" y="218.90" font-size="7.4" text-anchor="middle" fill="#333">1</text>
<line x1="458.20" y1="205.50" x2="458.20" y2="209.10" stroke="#555" stroke-width="0.8"/>
<text x="458.20" y="218.90" font-size="7.4" text-anchor="middle" fill="#333">2</text>
<text transform="translate(261.30,115.60) rotate(-90)" font-size="8.9" text-anchor="middle" fill="#231f20" textLength="101" lengthAdjust="spacingAndGlyphs">Scaled seqlet peak score</text>
<text x="371.70" y="228.90" font-size="8.9" text-anchor="middle" fill="#231f20" textLength="31.4" lengthAdjust="spacingAndGlyphs">log<tspan font-size="5.8" dy="2.2">2</tspan><tspan dy="-2.2">–FC</tspan></text>
<text x="365.30" y="147.70" font-size="6.3" text-anchor="start" fill="#262626" font-style="italic">Blnk</text>
<text x="378.10" y="147.10" font-size="6.3" text-anchor="start" fill="#262626" font-style="italic">Ccng2</text>
<text x="364.90" y="157.20" font-size="6.3" text-anchor="start" fill="#262626" font-style="italic">Ccnd3</text>
<text x="384.50" y="156.10" font-size="6.3" text-anchor="start" fill="#262626" font-style="italic">Lig1</text>
<text x="382.20" y="163.30" font-size="6.3" text-anchor="start" fill="#262626" font-style="italic">Ezh1</text>
<text x="391.00" y="195.20" font-size="6.3" text-anchor="start" fill="#262626" font-style="italic">Fbxo5</text>
<text x="406.70" y="192.10" font-size="6.3" text-anchor="start" fill="#262626" font-style="italic">Cdc6</text>
<text x="413.10" y="199.00" font-size="6.3" text-anchor="start" fill="#262626" font-style="italic">Rpl34</text>
<text x="376.10" y="202.20" font-size="6.3" text-anchor="start" fill="#262626" font-style="italic">Pold4</text>
<text x="399.10" y="203.40" font-size="6.3" text-anchor="start" fill="#262626" font-style="italic">Cdk1</text>
<rect x="536.90" y="21.70" width="114.20" height="12.90" fill="#00ffff"/>
<text x="592.75" y="31.40" font-size="8.6" text-anchor="middle" fill="#231f20" textLength="99.9" lengthAdjust="spacingAndGlyphs">BLIMP1 target genes - C4</text>
<line x1="588.75" y1="35.40" x2="588.75" y2="202.50" stroke="#bdbdbd" stroke-width="0.8" stroke-dasharray="2.6 2.6"/>
<line x1="604.25" y1="35.40" x2="604.25" y2="202.50" stroke="#bdbdbd" stroke-width="0.8" stroke-dasharray="2.6 2.6"/>
<line x1="513.50" y1="194.50" x2="685.00" y2="194.50" stroke="#bdbdbd" stroke-width="0.8" stroke-dasharray="2.6 2.6"/>
<circle cx="544.28" cy="105.02" r="1.0" fill="#949df2"/>
<circle cx="570.20" cy="103.01" r="1.0" fill="#949df2"/>
<circle cx="585.59" cy="112.88" r="1.0" fill="#949df2"/>
<circle cx="569.36" cy="133.78" r="1.0" fill="#949df2"/>
<circle cx="566.35" cy="145.48" r="1.0" fill="#949df2"/>
<circle cx="578.56" cy="148.83" r="1.0" fill="#949df2"/>
<circle cx="580.57" cy="147.16" r="1.0" fill="#949df2"/>
<circle cx="586.09" cy="146.49" r="1.0" fill="#949df2"/>
<circle cx="584.75" cy="150.17" r="1.0" fill="#949df2"/>
<circle cx="587.26" cy="148.83" r="1.0" fill="#949df2"/>
<circle cx="546.79" cy="153.51" r="1.0" fill="#949df2"/>
<circle cx="548.96" cy="151.84" r="1.0" fill="#949df2"/>
<circle cx="520.03" cy="160.70" r="1.0" fill="#949df2"/>
<circle cx="569.87" cy="159.70" r="1.0" fill="#949df2"/>
<circle cx="573.88" cy="155.69" r="1.0" fill="#949df2"/>
<circle cx="576.89" cy="156.86" r="1.0" fill="#949df2"/>
<circle cx="579.90" cy="158.53" r="1.0" fill="#949df2"/>
<circle cx="576.56" cy="159.70" r="1.0" fill="#949df2"/>
<circle cx="579.40" cy="160.70" r="1.0" fill="#949df2"/>
<circle cx="575.22" cy="166.05" r="1.0" fill="#949df2"/>
<circle cx="576.05" cy="171.40" r="1.0" fill="#949df2"/>
<circle cx="587.26" cy="168.56" r="1.0" fill="#949df2"/>
<circle cx="536.76" cy="177.93" r="1.0" fill="#949df2"/>
<circle cx="548.80" cy="184.95" r="1.0" fill="#949df2"/>
<circle cx="558.83" cy="182.27" r="1.0" fill="#949df2"/>
<circle cx="567.19" cy="183.61" r="1.0" fill="#949df2"/>
<circle cx="574.38" cy="179.77" r="1.0" fill="#949df2"/>
<circle cx="579.73" cy="179.93" r="1.0" fill="#949df2"/>
<circle cx="580.74" cy="181.94" r="1.0" fill="#949df2"/>
<circle cx="584.92" cy="185.62" r="1.0" fill="#949df2"/>
<circle cx="535.42" cy="189.46" r="1.0" fill="#949df2"/>
<circle cx="534.58" cy="194.48" r="1.0" fill="#949df2"/>
<circle cx="557.66" cy="191.64" r="1.0" fill="#949df2"/>
<circle cx="563.18" cy="192.31" r="1.0" fill="#949df2"/>
<circle cx="567.19" cy="191.14" r="1.0" fill="#949df2"/>
<circle cx="568.86" cy="193.14" r="1.0" fill="#949df2"/>
<circle cx="578.56" cy="191.47" r="1.0" fill="#949df2"/>
<circle cx="582.74" cy="194.15" r="1.0" fill="#949df2"/>
<circle cx="573.20" cy="82.80" r="1.0" fill="#949df2"/>
<circle cx="627.77" cy="128.66" r="1.1" fill="#e23a40" fill-opacity="0.55"/>
<circle cx="638.59" cy="179.51" r="1.1" fill="#e23a40" fill-opacity="0.55"/>
<circle cx="613.11" cy="159.67" r="1.1" fill="#e23a40" fill-opacity="0.55"/>
<circle cx="621.42" cy="150.52" r="1.1" fill="#e23a40" fill-opacity="0.55"/>
<circle cx="620.95" cy="184.74" r="1.1" fill="#e23a40" fill-opacity="0.55"/>
<circle cx="624.80" cy="192.49" r="1.1" fill="#e23a40" fill-opacity="0.55"/>
<circle cx="632.59" cy="191.39" r="1.1" fill="#e23a40" fill-opacity="0.55"/>
<circle cx="641.73" cy="157.99" r="1.1" fill="#e23a40" fill-opacity="0.55"/>
<circle cx="623.91" cy="153.84" r="1.1" fill="#e23a40" fill-opacity="0.55"/>
<circle cx="614.05" cy="135.24" r="1.1" fill="#e23a40" fill-opacity="0.55"/>
<circle cx="619.53" cy="128.65" r="1.1" fill="#e23a40" fill-opacity="0.55"/>
<circle cx="610.92" cy="180.58" r="1.1" fill="#e23a40" fill-opacity="0.55"/>
<circle cx="624.42" cy="193.33" r="1.1" fill="#e23a40" fill-opacity="0.55"/>
<circle cx="612.49" cy="153.22" r="1.1" fill="#e23a40" fill-opacity="0.55"/>
<circle cx="630.11" cy="172.10" r="1.1" fill="#e23a40" fill-opacity="0.55"/>
<circle cx="623.43" cy="158.22" r="1.1" fill="#e23a40" fill-opacity="0.55"/>
<circle cx="635.50" cy="153.48" r="1.1" fill="#e23a40" fill-opacity="0.55"/>
<circle cx="604.89" cy="160.28" r="1.1" fill="#e23a40" fill-opacity="0.55"/>
<circle cx="628.95" cy="184.89" r="1.1" fill="#e23a40" fill-opacity="0.55"/>
<circle cx="619.94" cy="176.54" r="1.1" fill="#e23a40" fill-opacity="0.55"/>
<circle cx="619.41" cy="174.55" r="1.1" fill="#e23a40" fill-opacity="0.55"/>
<circle cx="633.40" cy="145.35" r="1.1" fill="#e23a40" fill-opacity="0.55"/>
<circle cx="625.27" cy="184.89" r="1.1" fill="#e23a40" fill-opacity="0.55"/>
<circle cx="619.79" cy="154.87" r="1.1" fill="#e23a40" fill-opacity="0.55"/>
<circle cx="624.42" cy="185.40" r="1.1" fill="#e23a40" fill-opacity="0.55"/>
<circle cx="650.75" cy="172.76" r="1.1" fill="#e23a40" fill-opacity="0.55"/>
<circle cx="607.16" cy="183.49" r="1.1" fill="#e23a40" fill-opacity="0.55"/>
<circle cx="636.42" cy="166.03" r="1.1" fill="#e23a40" fill-opacity="0.55"/>
<circle cx="618.50" cy="193.46" r="1.1" fill="#e23a40" fill-opacity="0.55"/>
<circle cx="618.90" cy="174.06" r="1.1" fill="#e23a40" fill-opacity="0.55"/>
<circle cx="658.82" cy="190.21" r="1.1" fill="#e23a40" fill-opacity="0.55"/>
<circle cx="626.88" cy="167.37" r="1.1" fill="#e23a40" fill-opacity="0.55"/>
<circle cx="625.20" cy="141.39" r="1.1" fill="#e23a40" fill-opacity="0.55"/>
<circle cx="626.79" cy="185.23" r="1.1" fill="#e23a40" fill-opacity="0.55"/>
<circle cx="613.66" cy="152.53" r="1.1" fill="#e23a40" fill-opacity="0.55"/>
<circle cx="614.84" cy="194.12" r="1.1" fill="#e23a40" fill-opacity="0.55"/>
<circle cx="626.71" cy="192.60" r="1.1" fill="#e23a40" fill-opacity="0.55"/>
<circle cx="619.75" cy="193.74" r="1.1" fill="#e23a40" fill-opacity="0.55"/>
<circle cx="629.93" cy="164.61" r="1.1" fill="#e23a40" fill-opacity="0.55"/>
<circle cx="665.08" cy="188.94" r="1.1" fill="#e23a40" fill-opacity="0.55"/>
<circle cx="618.62" cy="153.21" r="1.1" fill="#e23a40" fill-opacity="0.55"/>
<circle cx="641.07" cy="185.17" r="1.1" fill="#e23a40" fill-opacity="0.55"/>
<circle cx="654.13" cy="121.92" r="1.1" fill="#e23a40" fill-opacity="0.55"/>
<circle cx="622.76" cy="193.81" r="1.1" fill="#e23a40" fill-opacity="0.55"/>
<circle cx="622.01" cy="157.20" r="1.1" fill="#e23a40" fill-opacity="0.55"/>
<circle cx="636.78" cy="153.10" r="1.1" fill="#e23a40" fill-opacity="0.55"/>
<circle cx="620.82" cy="155.88" r="1.1" fill="#e23a40" fill-opacity="0.55"/>
<circle cx="623.97" cy="171.51" r="1.1" fill="#e23a40" fill-opacity="0.55"/>
<circle cx="622.94" cy="133.91" r="1.1" fill="#e23a40" fill-opacity="0.55"/>
<circle cx="618.34" cy="188.77" r="1.1" fill="#e23a40" fill-opacity="0.55"/>
<circle cx="619.65" cy="191.71" r="1.1" fill="#e23a40" fill-opacity="0.55"/>
<circle cx="620.85" cy="194.07" r="1.1" fill="#e23a40" fill-opacity="0.55"/>
<circle cx="656.80" cy="163.43" r="1.1" fill="#e23a40" fill-opacity="0.55"/>
<circle cx="608.88" cy="170.11" r="1.1" fill="#e23a40" fill-opacity="0.55"/>
<circle cx="664.54" cy="173.51" r="1.1" fill="#e23a40" fill-opacity="0.55"/>
<circle cx="633.02" cy="183.96" r="1.1" fill="#e23a40" fill-opacity="0.55"/>
<circle cx="610.31" cy="152.29" r="1.1" fill="#e23a40" fill-opacity="0.55"/>
<circle cx="633.02" cy="164.03" r="1.1" fill="#e23a40" fill-opacity="0.55"/>
<circle cx="632.43" cy="174.95" r="1.1" fill="#e23a40" fill-opacity="0.55"/>
<circle cx="639.73" cy="134.62" r="1.1" fill="#e23a40" fill-opacity="0.55"/>
<circle cx="628.01" cy="183.39" r="1.1" fill="#e23a40" fill-opacity="0.55"/>
<circle cx="626.87" cy="178.16" r="1.1" fill="#e23a40" fill-opacity="0.55"/>
<circle cx="649.14" cy="167.05" r="1.1" fill="#e23a40" fill-opacity="0.55"/>
<circle cx="616.49" cy="183.55" r="1.1" fill="#e23a40" fill-opacity="0.55"/>
<circle cx="619.59" cy="159.15" r="1.1" fill="#e23a40" fill-opacity="0.55"/>
<circle cx="611.38" cy="135.83" r="1.1" fill="#e23a40" fill-opacity="0.55"/>
<circle cx="648.02" cy="133.06" r="1.1" fill="#e23a40" fill-opacity="0.55"/>
<circle cx="612.58" cy="132.21" r="1.1" fill="#e23a40" fill-opacity="0.55"/>
<circle cx="620.73" cy="184.60" r="1.1" fill="#e23a40" fill-opacity="0.55"/>
<circle cx="635.75" cy="181.40" r="1.1" fill="#e23a40" fill-opacity="0.55"/>
<circle cx="616.36" cy="116.98" r="1.1" fill="#e23a40" fill-opacity="0.55"/>
<circle cx="611.62" cy="192.23" r="1.1" fill="#e23a40" fill-opacity="0.55"/>
<circle cx="643.27" cy="179.85" r="1.1" fill="#e23a40" fill-opacity="0.55"/>
<circle cx="610.16" cy="163.75" r="1.1" fill="#e23a40" fill-opacity="0.55"/>
<circle cx="612.66" cy="192.32" r="1.1" fill="#e23a40" fill-opacity="0.55"/>
<circle cx="624.44" cy="168.86" r="1.1" fill="#e23a40" fill-opacity="0.55"/>
<circle cx="638.05" cy="189.97" r="1.1" fill="#e23a40" fill-opacity="0.55"/>
<circle cx="633.76" cy="162.30" r="1.1" fill="#e23a40" fill-opacity="0.55"/>
<circle cx="640.56" cy="155.44" r="1.1" fill="#e23a40" fill-opacity="0.55"/>
<circle cx="607.85" cy="184.29" r="1.1" fill="#e23a40" fill-opacity="0.55"/>
<circle cx="611.54" cy="154.49" r="1.1" fill="#e23a40" fill-opacity="0.55"/>
<circle cx="607.73" cy="188.10" r="1.1" fill="#e23a40" fill-opacity="0.55"/>
<circle cx="645.29" cy="161.14" r="1.1" fill="#e23a40" fill-opacity="0.55"/>
<circle cx="608.80" cy="134.63" r="1.1" fill="#e23a40" fill-opacity="0.55"/>
<circle cx="634.84" cy="186.29" r="1.1" fill="#e23a40" fill-opacity="0.55"/>
<circle cx="637.26" cy="141.68" r="1.1" fill="#e23a40" fill-opacity="0.55"/>
<circle cx="627.24" cy="146.33" r="1.1" fill="#e23a40" fill-opacity="0.55"/>
<circle cx="648.05" cy="150.26" r="1.1" fill="#e23a40" fill-opacity="0.55"/>
<circle cx="641.95" cy="153.93" r="1.1" fill="#e23a40" fill-opacity="0.55"/>
<circle cx="619.55" cy="173.62" r="1.1" fill="#e23a40" fill-opacity="0.55"/>
<circle cx="613.40" cy="161.33" r="1.1" fill="#e23a40" fill-opacity="0.55"/>
<circle cx="613.09" cy="177.51" r="1.1" fill="#e23a40" fill-opacity="0.55"/>
<circle cx="613.11" cy="164.74" r="1.1" fill="#e23a40" fill-opacity="0.55"/>
<circle cx="617.52" cy="149.89" r="1.1" fill="#e23a40" fill-opacity="0.55"/>
<circle cx="606.12" cy="187.48" r="1.1" fill="#e23a40" fill-opacity="0.55"/>
<circle cx="614.17" cy="150.09" r="1.1" fill="#e23a40" fill-opacity="0.55"/>
<circle cx="610.49" cy="175.75" r="1.1" fill="#e23a40" fill-opacity="0.55"/>
<circle cx="614.13" cy="186.55" r="1.1" fill="#e23a40" fill-opacity="0.55"/>
<circle cx="605.64" cy="137.34" r="1.1" fill="#e23a40" fill-opacity="0.55"/>
<circle cx="621.23" cy="179.00" r="1.1" fill="#e23a40" fill-opacity="0.55"/>
<circle cx="635.22" cy="154.50" r="1.1" fill="#e23a40" fill-opacity="0.55"/>
<circle cx="645.84" cy="156.07" r="1.1" fill="#e23a40" fill-opacity="0.55"/>
<circle cx="618.76" cy="144.10" r="1.1" fill="#e23a40" fill-opacity="0.55"/>
<circle cx="644.68" cy="128.79" r="1.1" fill="#e23a40" fill-opacity="0.55"/>
<circle cx="647.29" cy="171.07" r="1.1" fill="#e23a40" fill-opacity="0.55"/>
<circle cx="635.29" cy="170.83" r="1.1" fill="#e23a40" fill-opacity="0.55"/>
<circle cx="607.66" cy="185.37" r="1.1" fill="#e23a40" fill-opacity="0.55"/>
<circle cx="615.98" cy="189.46" r="1.1" fill="#e23a40" fill-opacity="0.55"/>
<circle cx="615.25" cy="189.45" r="1.1" fill="#e23a40" fill-opacity="0.55"/>
<circle cx="619.70" cy="192.30" r="1.1" fill="#e23a40" fill-opacity="0.55"/>
<circle cx="642.78" cy="182.40" r="1.1" fill="#e23a40" fill-opacity="0.55"/>
<circle cx="606.26" cy="174.64" r="1.1" fill="#e23a40" fill-opacity="0.55"/>
<circle cx="612.73" cy="185.95" r="1.1" fill="#e23a40" fill-opacity="0.55"/>
<circle cx="630.04" cy="191.40" r="1.1" fill="#e23a40" fill-opacity="0.55"/>
<circle cx="621.06" cy="149.52" r="1.1" fill="#e23a40" fill-opacity="0.55"/>
<circle cx="614.09" cy="157.43" r="1.1" fill="#e23a40" fill-opacity="0.55"/>
<circle cx="608.47" cy="181.38" r="1.1" fill="#e23a40" fill-opacity="0.55"/>
<circle cx="622.01" cy="175.27" r="1.1" fill="#e23a40" fill-opacity="0.55"/>
<circle cx="625.64" cy="179.09" r="1.1" fill="#e23a40" fill-opacity="0.55"/>
<circle cx="639.55" cy="184.05" r="1.1" fill="#e23a40" fill-opacity="0.55"/>
<circle cx="618.91" cy="155.01" r="1.1" fill="#e23a40" fill-opacity="0.55"/>
<circle cx="629.95" cy="188.38" r="1.1" fill="#e23a40" fill-opacity="0.55"/>
<circle cx="645.26" cy="166.76" r="1.1" fill="#e23a40" fill-opacity="0.55"/>
<circle cx="624.10" cy="190.93" r="1.1" fill="#e23a40" fill-opacity="0.55"/>
<circle cx="610.05" cy="125.21" r="1.1" fill="#e23a40" fill-opacity="0.55"/>
<circle cx="618.29" cy="189.43" r="1.1" fill="#e23a40" fill-opacity="0.55"/>
<circle cx="613.20" cy="193.18" r="1.1" fill="#e23a40" fill-opacity="0.55"/>
<circle cx="613.00" cy="185.91" r="1.1" fill="#e23a40" fill-opacity="0.55"/>
<circle cx="629.40" cy="193.05" r="1.1" fill="#e23a40" fill-opacity="0.55"/>
<circle cx="624.68" cy="152.86" r="1.1" fill="#e23a40" fill-opacity="0.55"/>
<circle cx="610.94" cy="187.26" r="1.1" fill="#e23a40" fill-opacity="0.55"/>
<circle cx="622.47" cy="158.91" r="1.1" fill="#e23a40" fill-opacity="0.55"/>
<circle cx="611.54" cy="180.68" r="1.1" fill="#e23a40" fill-opacity="0.55"/>
<circle cx="609.44" cy="171.77" r="1.1" fill="#e23a40" fill-opacity="0.55"/>
<circle cx="622.24" cy="190.13" r="1.1" fill="#e23a40" fill-opacity="0.55"/>
<circle cx="631.45" cy="185.64" r="1.1" fill="#e23a40" fill-opacity="0.55"/>
<circle cx="625.20" cy="189.52" r="1.1" fill="#e23a40" fill-opacity="0.55"/>
<circle cx="617.80" cy="194.45" r="1.1" fill="#e23a40" fill-opacity="0.55"/>
<circle cx="620.29" cy="150.43" r="1.1" fill="#e23a40" fill-opacity="0.55"/>
<circle cx="631.49" cy="186.48" r="1.1" fill="#e23a40" fill-opacity="0.55"/>
<circle cx="646.65" cy="182.32" r="1.1" fill="#e23a40" fill-opacity="0.55"/>
<circle cx="661.39" cy="194.12" r="1.1" fill="#e23a40" fill-opacity="0.55"/>
<circle cx="627.24" cy="148.66" r="1.1" fill="#e23a40" fill-opacity="0.55"/>
<circle cx="675.45" cy="153.27" r="1.1" fill="#e23a40" fill-opacity="0.55"/>
<circle cx="624.65" cy="165.43" r="1.1" fill="#e23a40" fill-opacity="0.55"/>
<circle cx="643.05" cy="185.19" r="1.1" fill="#e23a40" fill-opacity="0.55"/>
<circle cx="629.38" cy="185.20" r="1.1" fill="#e23a40" fill-opacity="0.55"/>
<circle cx="638.13" cy="191.59" r="1.1" fill="#e23a40" fill-opacity="0.55"/>
<circle cx="614.13" cy="186.13" r="1.1" fill="#e23a40" fill-opacity="0.55"/>
<circle cx="605.71" cy="177.95" r="1.1" fill="#e23a40" fill-opacity="0.55"/>
<circle cx="609.66" cy="193.34" r="1.1" fill="#e23a40" fill-opacity="0.55"/>
<circle cx="625.61" cy="125.10" r="1.1" fill="#e23a40" fill-opacity="0.55"/>
<circle cx="606.65" cy="183.76" r="1.1" fill="#e23a40" fill-opacity="0.55"/>
<circle cx="615.64" cy="149.48" r="1.1" fill="#e23a40" fill-opacity="0.55"/>
<circle cx="609.52" cy="152.63" r="1.1" fill="#e23a40" fill-opacity="0.55"/>
<circle cx="620.58" cy="185.49" r="1.1" fill="#e23a40" fill-opacity="0.55"/>
<circle cx="617.33" cy="170.10" r="1.1" fill="#e23a40" fill-opacity="0.55"/>
<circle cx="626.48" cy="185.88" r="1.1" fill="#e23a40" fill-opacity="0.55"/>
<circle cx="619.14" cy="150.39" r="1.1" fill="#e23a40" fill-opacity="0.55"/>
<circle cx="639.24" cy="165.51" r="1.1" fill="#e23a40" fill-opacity="0.55"/>
<circle cx="618.23" cy="165.14" r="1.1" fill="#e23a40" fill-opacity="0.55"/>
<circle cx="621.08" cy="193.75" r="1.1" fill="#e23a40" fill-opacity="0.55"/>
<circle cx="637.19" cy="139.19" r="1.1" fill="#e23a40" fill-opacity="0.55"/>
<circle cx="604.81" cy="185.44" r="1.1" fill="#e23a40" fill-opacity="0.55"/>
<circle cx="620.64" cy="146.15" r="1.1" fill="#e23a40" fill-opacity="0.55"/>
<circle cx="626.00" cy="187.33" r="1.1" fill="#e23a40" fill-opacity="0.55"/>
<circle cx="654.45" cy="158.67" r="1.1" fill="#e23a40" fill-opacity="0.55"/>
<circle cx="626.96" cy="129.31" r="1.1" fill="#e23a40" fill-opacity="0.55"/>
<circle cx="644.00" cy="155.96" r="1.1" fill="#e23a40" fill-opacity="0.55"/>
<circle cx="604.86" cy="149.81" r="1.1" fill="#e23a40" fill-opacity="0.55"/>
<circle cx="635.20" cy="142.73" r="1.1" fill="#e23a40" fill-opacity="0.55"/>
<circle cx="607.17" cy="186.37" r="1.1" fill="#e23a40" fill-opacity="0.55"/>
<circle cx="643.28" cy="174.97" r="1.1" fill="#e23a40" fill-opacity="0.55"/>
<circle cx="614.61" cy="148.58" r="1.1" fill="#e23a40" fill-opacity="0.55"/>
<circle cx="621.33" cy="187.89" r="1.1" fill="#e23a40" fill-opacity="0.55"/>
<circle cx="617.73" cy="183.57" r="1.1" fill="#e23a40" fill-opacity="0.55"/>
<circle cx="620.55" cy="178.73" r="1.1" fill="#e23a40" fill-opacity="0.55"/>
<circle cx="628.73" cy="193.63" r="1.1" fill="#e23a40" fill-opacity="0.55"/>
<circle cx="609.04" cy="189.81" r="1.1" fill="#e23a40" fill-opacity="0.55"/>
<circle cx="644.75" cy="155.76" r="1.1" fill="#e23a40" fill-opacity="0.55"/>
<circle cx="607.89" cy="164.66" r="1.1" fill="#e23a40" fill-opacity="0.55"/>
<circle cx="636.82" cy="174.81" r="1.1" fill="#e23a40" fill-opacity="0.55"/>
<circle cx="635.35" cy="179.91" r="1.1" fill="#e23a40" fill-opacity="0.55"/>
<circle cx="628.63" cy="184.05" r="1.1" fill="#e23a40" fill-opacity="0.55"/>
<circle cx="610.26" cy="161.86" r="1.1" fill="#e23a40" fill-opacity="0.55"/>
<circle cx="613.18" cy="167.73" r="1.1" fill="#e23a40" fill-opacity="0.55"/>
<circle cx="638.93" cy="133.38" r="1.1" fill="#e23a40" fill-opacity="0.55"/>
<circle cx="623.40" cy="187.72" r="1.1" fill="#e23a40" fill-opacity="0.55"/>
<circle cx="628.17" cy="158.25" r="1.1" fill="#e23a40" fill-opacity="0.55"/>
<circle cx="620.82" cy="186.81" r="1.1" fill="#e23a40" fill-opacity="0.55"/>
<circle cx="613.19" cy="129.66" r="1.1" fill="#e23a40" fill-opacity="0.55"/>
<circle cx="621.97" cy="178.03" r="1.1" fill="#e23a40" fill-opacity="0.55"/>
<circle cx="632.40" cy="188.74" r="1.1" fill="#e23a40" fill-opacity="0.55"/>
<circle cx="624.82" cy="177.80" r="1.1" fill="#e23a40" fill-opacity="0.55"/>
<circle cx="612.60" cy="174.88" r="1.1" fill="#e23a40" fill-opacity="0.55"/>
<circle cx="616.66" cy="156.08" r="1.1" fill="#e23a40" fill-opacity="0.55"/>
<circle cx="643.34" cy="189.84" r="1.1" fill="#e23a40" fill-opacity="0.55"/>
<circle cx="633.21" cy="189.17" r="1.1" fill="#e23a40" fill-opacity="0.55"/>
<circle cx="605.27" cy="163.84" r="1.1" fill="#e23a40" fill-opacity="0.55"/>
<circle cx="635.65" cy="162.34" r="1.1" fill="#e23a40" fill-opacity="0.55"/>
<circle cx="642.03" cy="146.09" r="1.1" fill="#e23a40" fill-opacity="0.55"/>
<circle cx="634.99" cy="172.31" r="1.1" fill="#e23a40" fill-opacity="0.55"/>
<circle cx="623.05" cy="155.94" r="1.1" fill="#e23a40" fill-opacity="0.55"/>
<circle cx="626.31" cy="162.14" r="1.1" fill="#e23a40" fill-opacity="0.55"/>
<circle cx="621.12" cy="161.14" r="1.1" fill="#e23a40" fill-opacity="0.55"/>
<circle cx="613.79" cy="162.97" r="1.1" fill="#e23a40" fill-opacity="0.55"/>
<circle cx="625.59" cy="119.95" r="1.1" fill="#e23a40" fill-opacity="0.55"/>
<circle cx="640.84" cy="187.56" r="1.1" fill="#e23a40" fill-opacity="0.55"/>
<circle cx="627.51" cy="158.64" r="1.1" fill="#e23a40" fill-opacity="0.55"/>
<circle cx="647.70" cy="164.53" r="1.1" fill="#e23a40" fill-opacity="0.55"/>
<circle cx="609.37" cy="189.87" r="1.1" fill="#e23a40" fill-opacity="0.55"/>
<circle cx="611.28" cy="188.75" r="1.1" fill="#e23a40" fill-opacity="0.55"/>
<circle cx="612.15" cy="192.40" r="1.1" fill="#e23a40" fill-opacity="0.55"/>
<circle cx="643.45" cy="165.12" r="1.1" fill="#e23a40" fill-opacity="0.55"/>
<circle cx="647.88" cy="165.49" r="1.1" fill="#e23a40" fill-opacity="0.55"/>
<circle cx="672.20" cy="154.34" r="1.1" fill="#e23a40" fill-opacity="0.55"/>
<circle cx="613.54" cy="161.43" r="1.1" fill="#e23a40" fill-opacity="0.55"/>
<circle cx="622.77" cy="164.83" r="1.1" fill="#e23a40" fill-opacity="0.55"/>
<circle cx="635.02" cy="190.52" r="1.1" fill="#e23a40" fill-opacity="0.55"/>
<circle cx="607.69" cy="188.68" r="1.1" fill="#e23a40" fill-opacity="0.55"/>
<circle cx="619.38" cy="168.17" r="1.1" fill="#e23a40" fill-opacity="0.55"/>
<circle cx="616.73" cy="186.72" r="1.1" fill="#e23a40" fill-opacity="0.55"/>
<circle cx="658.04" cy="178.01" r="1.1" fill="#e23a40" fill-opacity="0.55"/>
<circle cx="638.31" cy="160.95" r="1.1" fill="#e23a40" fill-opacity="0.55"/>
<circle cx="620.73" cy="164.14" r="1.1" fill="#e23a40" fill-opacity="0.55"/>
<circle cx="617.73" cy="179.40" r="1.1" fill="#e23a40" fill-opacity="0.55"/>
<circle cx="633.72" cy="160.87" r="1.1" fill="#e23a40" fill-opacity="0.55"/>
<circle cx="630.28" cy="183.60" r="1.1" fill="#e23a40" fill-opacity="0.55"/>
<circle cx="649.47" cy="186.74" r="1.1" fill="#e23a40" fill-opacity="0.55"/>
<circle cx="616.91" cy="188.03" r="1.1" fill="#e23a40" fill-opacity="0.55"/>
<circle cx="637.35" cy="194.02" r="1.1" fill="#e23a40" fill-opacity="0.55"/>
<circle cx="621.21" cy="171.52" r="1.1" fill="#e23a40" fill-opacity="0.55"/>
<circle cx="619.02" cy="192.03" r="1.1" fill="#e23a40" fill-opacity="0.55"/>
<circle cx="631.51" cy="181.03" r="1.1" fill="#e23a40" fill-opacity="0.55"/>
<circle cx="653.11" cy="133.93" r="1.1" fill="#e23a40" fill-opacity="0.55"/>
<circle cx="642.66" cy="175.30" r="1.1" fill="#e23a40" fill-opacity="0.55"/>
<circle cx="632.41" cy="170.46" r="1.1" fill="#e23a40" fill-opacity="0.55"/>
<circle cx="634.10" cy="162.11" r="1.1" fill="#e23a40" fill-opacity="0.55"/>
<circle cx="614.35" cy="189.56" r="1.1" fill="#e23a40" fill-opacity="0.55"/>
<circle cx="612.16" cy="158.01" r="1.1" fill="#e23a40" fill-opacity="0.55"/>
<circle cx="635.08" cy="164.73" r="1.1" fill="#e23a40" fill-opacity="0.55"/>
<circle cx="616.93" cy="164.36" r="1.1" fill="#e23a40" fill-opacity="0.55"/>
<circle cx="625.78" cy="187.01" r="1.1" fill="#e23a40" fill-opacity="0.55"/>
<circle cx="632.83" cy="134.07" r="1.1" fill="#e23a40" fill-opacity="0.55"/>
<circle cx="605.79" cy="133.81" r="1.1" fill="#e23a40" fill-opacity="0.55"/>
<circle cx="607.45" cy="159.83" r="1.1" fill="#e23a40" fill-opacity="0.55"/>
<circle cx="620.22" cy="157.21" r="1.1" fill="#e23a40" fill-opacity="0.55"/>
<circle cx="641.39" cy="129.34" r="1.1" fill="#e23a40" fill-opacity="0.55"/>
<circle cx="615.21" cy="181.80" r="1.1" fill="#e23a40" fill-opacity="0.55"/>
<circle cx="632.33" cy="185.88" r="1.1" fill="#e23a40" fill-opacity="0.55"/>
<circle cx="608.00" cy="188.66" r="1.1" fill="#e23a40" fill-opacity="0.55"/>
<circle cx="610.90" cy="191.03" r="1.1" fill="#e23a40" fill-opacity="0.55"/>
<circle cx="633.58" cy="160.20" r="1.1" fill="#e23a40" fill-opacity="0.55"/>
<circle cx="606.41" cy="183.43" r="1.1" fill="#e23a40" fill-opacity="0.55"/>
<circle cx="609.07" cy="184.13" r="1.1" fill="#e23a40" fill-opacity="0.55"/>
<circle cx="607.41" cy="140.47" r="1.1" fill="#e23a40" fill-opacity="0.55"/>
<circle cx="606.43" cy="193.62" r="1.1" fill="#e23a40" fill-opacity="0.55"/>
<circle cx="608.29" cy="145.03" r="1.1" fill="#e23a40" fill-opacity="0.55"/>
<circle cx="610.25" cy="118.80" r="1.1" fill="#e23a40" fill-opacity="0.55"/>
<circle cx="612.22" cy="149.84" r="1.1" fill="#e23a40" fill-opacity="0.55"/>
<circle cx="614.41" cy="187.37" r="1.1" fill="#e23a40" fill-opacity="0.55"/>
<circle cx="634.13" cy="135.32" r="1.1" fill="#e23a40" fill-opacity="0.55"/>
<circle cx="622.67" cy="190.88" r="1.1" fill="#e23a40" fill-opacity="0.55"/>
<circle cx="622.83" cy="134.04" r="1.1" fill="#e23a40" fill-opacity="0.55"/>
<circle cx="624.17" cy="186.58" r="1.1" fill="#e23a40" fill-opacity="0.55"/>
<circle cx="641.23" cy="170.94" r="1.1" fill="#e23a40" fill-opacity="0.55"/>
<circle cx="613.76" cy="193.92" r="1.1" fill="#e23a40" fill-opacity="0.55"/>
<circle cx="628.18" cy="176.08" r="1.1" fill="#e23a40" fill-opacity="0.55"/>
<circle cx="635.37" cy="130.96" r="1.1" fill="#e23a40" fill-opacity="0.55"/>
<circle cx="635.93" cy="179.53" r="1.1" fill="#e23a40" fill-opacity="0.55"/>
<circle cx="629.19" cy="160.49" r="1.1" fill="#e23a40" fill-opacity="0.55"/>
<circle cx="635.44" cy="142.04" r="1.1" fill="#e23a40" fill-opacity="0.55"/>
<circle cx="611.86" cy="160.74" r="1.1" fill="#e23a40" fill-opacity="0.55"/>
<circle cx="620.66" cy="119.39" r="1.1" fill="#e23a40" fill-opacity="0.55"/>
<circle cx="618.63" cy="191.08" r="1.1" fill="#e23a40" fill-opacity="0.55"/>
<circle cx="643.63" cy="169.30" r="1.1" fill="#e23a40" fill-opacity="0.55"/>
<circle cx="626.47" cy="174.66" r="1.1" fill="#e23a40" fill-opacity="0.55"/>
<circle cx="632.02" cy="186.91" r="1.1" fill="#e23a40" fill-opacity="0.55"/>
<circle cx="618.29" cy="133.53" r="1.1" fill="#e23a40" fill-opacity="0.55"/>
<circle cx="623.28" cy="187.53" r="1.1" fill="#e23a40" fill-opacity="0.55"/>
<circle cx="631.79" cy="179.86" r="1.1" fill="#e23a40" fill-opacity="0.55"/>
<circle cx="639.45" cy="145.75" r="1.1" fill="#e23a40" fill-opacity="0.55"/>
<circle cx="610.00" cy="179.62" r="1.1" fill="#e23a40" fill-opacity="0.55"/>
<circle cx="633.24" cy="184.22" r="1.1" fill="#e23a40" fill-opacity="0.55"/>
<circle cx="607.24" cy="193.06" r="1.1" fill="#e23a40" fill-opacity="0.55"/>
<circle cx="607.34" cy="159.52" r="1.1" fill="#e23a40" fill-opacity="0.55"/>
<circle cx="631.00" cy="192.79" r="1.1" fill="#e23a40" fill-opacity="0.55"/>
<circle cx="638.39" cy="164.74" r="1.1" fill="#e23a40" fill-opacity="0.55"/>
<circle cx="674.32" cy="120.42" r="1.1" fill="#e23a40" fill-opacity="0.55"/>
<circle cx="621.57" cy="176.53" r="1.1" fill="#e23a40" fill-opacity="0.55"/>
<circle cx="614.08" cy="163.52" r="1.1" fill="#e23a40" fill-opacity="0.55"/>
<circle cx="610.70" cy="152.21" r="1.1" fill="#e23a40" fill-opacity="0.55"/>
<circle cx="616.60" cy="174.00" r="1.1" fill="#e23a40" fill-opacity="0.55"/>
<circle cx="616.16" cy="161.94" r="1.1" fill="#e23a40" fill-opacity="0.55"/>
<circle cx="609.42" cy="155.63" r="1.1" fill="#e23a40" fill-opacity="0.55"/>
<circle cx="617.40" cy="184.53" r="1.1" fill="#e23a40" fill-opacity="0.55"/>
<circle cx="622.78" cy="192.60" r="1.1" fill="#e23a40" fill-opacity="0.55"/>
<circle cx="638.16" cy="128.61" r="1.1" fill="#e23a40" fill-opacity="0.55"/>
<circle cx="620.01" cy="150.46" r="1.1" fill="#e23a40" fill-opacity="0.55"/>
<circle cx="623.48" cy="140.54" r="1.1" fill="#e23a40" fill-opacity="0.55"/>
<circle cx="608.23" cy="154.61" r="1.1" fill="#e23a40" fill-opacity="0.55"/>
<circle cx="636.05" cy="157.92" r="1.1" fill="#e23a40" fill-opacity="0.55"/>
<circle cx="640.77" cy="194.41" r="1.1" fill="#e23a40" fill-opacity="0.55"/>
<circle cx="606.60" cy="159.85" r="1.1" fill="#e23a40" fill-opacity="0.55"/>
<circle cx="643.40" cy="162.49" r="1.1" fill="#e23a40" fill-opacity="0.55"/>
<circle cx="619.24" cy="171.84" r="1.1" fill="#e23a40" fill-opacity="0.55"/>
<circle cx="631.74" cy="161.96" r="1.1" fill="#e23a40" fill-opacity="0.55"/>
<circle cx="642.43" cy="163.73" r="1.1" fill="#e23a40" fill-opacity="0.55"/>
<circle cx="634.20" cy="152.74" r="1.1" fill="#e23a40" fill-opacity="0.55"/>
<circle cx="629.83" cy="151.55" r="1.1" fill="#e23a40" fill-opacity="0.55"/>
<circle cx="644.39" cy="131.43" r="1.1" fill="#e23a40" fill-opacity="0.55"/>
<circle cx="633.12" cy="165.57" r="1.1" fill="#e23a40" fill-opacity="0.55"/>
<circle cx="623.87" cy="191.19" r="1.1" fill="#e23a40" fill-opacity="0.55"/>
<circle cx="621.68" cy="187.14" r="1.1" fill="#e23a40" fill-opacity="0.55"/>
<circle cx="618.40" cy="183.00" r="1.1" fill="#e23a40" fill-opacity="0.55"/>
<circle cx="616.27" cy="120.63" r="1.1" fill="#e23a40" fill-opacity="0.55"/>
<circle cx="616.41" cy="176.48" r="1.1" fill="#e23a40" fill-opacity="0.55"/>
<circle cx="610.77" cy="154.27" r="1.1" fill="#e23a40" fill-opacity="0.55"/>
<circle cx="647.53" cy="187.96" r="1.1" fill="#e23a40" fill-opacity="0.55"/>
<circle cx="652.79" cy="193.24" r="1.1" fill="#e23a40" fill-opacity="0.55"/>
<circle cx="621.62" cy="117.33" r="1.1" fill="#e23a40" fill-opacity="0.55"/>
<circle cx="632.07" cy="193.52" r="1.1" fill="#e23a40" fill-opacity="0.55"/>
<circle cx="629.43" cy="132.32" r="1.1" fill="#e23a40" fill-opacity="0.55"/>
<circle cx="620.96" cy="160.00" r="1.1" fill="#e23a40" fill-opacity="0.55"/>
<circle cx="608.04" cy="183.53" r="1.1" fill="#e23a40" fill-opacity="0.55"/>
<circle cx="621.28" cy="183.60" r="1.1" fill="#e23a40" fill-opacity="0.55"/>
<circle cx="623.60" cy="186.05" r="1.1" fill="#e23a40" fill-opacity="0.55"/>
<circle cx="625.98" cy="186.26" r="1.1" fill="#e23a40" fill-opacity="0.55"/>
<circle cx="646.46" cy="145.57" r="1.1" fill="#e23a40" fill-opacity="0.55"/>
<circle cx="634.93" cy="113.95" r="1.1" fill="#e23a40" fill-opacity="0.55"/>
<circle cx="619.40" cy="194.10" r="1.1" fill="#e23a40" fill-opacity="0.55"/>
<circle cx="623.44" cy="195.06" r="1.1" fill="#e23a40" fill-opacity="0.55"/>
<circle cx="626.33" cy="195.15" r="1.1" fill="#e23a40" fill-opacity="0.55"/>
<circle cx="625.85" cy="193.24" r="1.1" fill="#e23a40" fill-opacity="0.55"/>
<circle cx="606.56" cy="194.16" r="1.1" fill="#e23a40" fill-opacity="0.55"/>
<circle cx="619.99" cy="194.91" r="1.1" fill="#e23a40" fill-opacity="0.55"/>
<circle cx="623.71" cy="194.70" r="1.1" fill="#e23a40" fill-opacity="0.55"/>
<circle cx="615.37" cy="193.60" r="1.1" fill="#e23a40" fill-opacity="0.55"/>
<circle cx="609.28" cy="194.70" r="1.1" fill="#e23a40" fill-opacity="0.55"/>
<circle cx="611.74" cy="193.34" r="1.1" fill="#e23a40" fill-opacity="0.55"/>
<circle cx="620.16" cy="194.36" r="1.1" fill="#e23a40" fill-opacity="0.55"/>
<circle cx="620.36" cy="194.15" r="1.1" fill="#e23a40" fill-opacity="0.55"/>
<circle cx="609.72" cy="195.14" r="1.1" fill="#e23a40" fill-opacity="0.55"/>
<circle cx="616.07" cy="194.34" r="1.1" fill="#e23a40" fill-opacity="0.55"/>
<circle cx="619.80" cy="193.22" r="1.1" fill="#e23a40" fill-opacity="0.55"/>
<circle cx="608.24" cy="193.88" r="1.1" fill="#e23a40" fill-opacity="0.55"/>
<circle cx="626.73" cy="193.29" r="1.1" fill="#e23a40" fill-opacity="0.55"/>
<circle cx="626.73" cy="194.41" r="1.1" fill="#e23a40" fill-opacity="0.55"/>
<circle cx="614.21" cy="194.68" r="1.1" fill="#e23a40" fill-opacity="0.55"/>
<circle cx="625.03" cy="194.76" r="1.1" fill="#e23a40" fill-opacity="0.55"/>
<circle cx="604.36" cy="194.92" r="1.1" fill="#e23a40" fill-opacity="0.55"/>
<circle cx="612.60" cy="194.88" r="1.1" fill="#e23a40" fill-opacity="0.55"/>
<circle cx="615.93" cy="194.92" r="1.1" fill="#e23a40" fill-opacity="0.55"/>
<circle cx="605.63" cy="194.20" r="1.1" fill="#e23a40" fill-opacity="0.55"/>
<circle cx="623.97" cy="193.83" r="1.1" fill="#e23a40" fill-opacity="0.55"/>
<circle cx="623.91" cy="193.49" r="1.1" fill="#e23a40" fill-opacity="0.55"/>
<circle cx="617.36" cy="193.24" r="1.1" fill="#e23a40" fill-opacity="0.55"/>
<circle cx="621.80" cy="193.74" r="1.1" fill="#e23a40" fill-opacity="0.55"/>
<circle cx="620.43" cy="193.38" r="1.1" fill="#e23a40" fill-opacity="0.55"/>
<circle cx="614.27" cy="194.32" r="1.1" fill="#e23a40" fill-opacity="0.55"/>
<circle cx="607.71" cy="193.80" r="1.1" fill="#e23a40" fill-opacity="0.55"/>
<circle cx="620.43" cy="194.31" r="1.1" fill="#e23a40" fill-opacity="0.55"/>
<circle cx="618.10" cy="40.60" r="1.1" fill="#e23a40" fill-opacity="0.55"/>
<circle cx="607.10" cy="74.90" r="1.1" fill="#e23a40" fill-opacity="0.55"/>
<circle cx="609.30" cy="90.30" r="1.1" fill="#e23a40" fill-opacity="0.55"/>
<circle cx="605.60" cy="107.00" r="1.1" fill="#e23a40" fill-opacity="0.55"/>
<circle cx="618.80" cy="105.70" r="1.1" fill="#e23a40" fill-opacity="0.55"/>
<circle cx="604.40" cy="112.80" r="1.1" fill="#e23a40" fill-opacity="0.55"/>
<circle cx="609.40" cy="114.00" r="1.1" fill="#e23a40" fill-opacity="0.55"/>
<circle cx="605.70" cy="119.00" r="1.1" fill="#e23a40" fill-opacity="0.55"/>
<circle cx="677.00" cy="131.00" r="1.1" fill="#e23a40" fill-opacity="0.55"/>
<circle cx="664.00" cy="149.00" r="1.1" fill="#e23a40" fill-opacity="0.55"/>
<circle cx="676.00" cy="165.00" r="1.1" fill="#e23a40" fill-opacity="0.55"/>
<circle cx="682.00" cy="150.00" r="1.1" fill="#e23a40" fill-opacity="0.55"/>
<circle cx="673.00" cy="178.00" r="1.1" fill="#e23a40" fill-opacity="0.55"/>
<circle cx="663.00" cy="168.00" r="1.1" fill="#e23a40" fill-opacity="0.55"/>
<circle cx="624.00" cy="76.10" r="1.65" fill="#7d0505"/>
<circle cx="616.30" cy="86.10" r="1.65" fill="#7d0505"/>
<circle cx="614.60" cy="95.30" r="1.65" fill="#7d0505"/>
<circle cx="608.40" cy="100.00" r="1.65" fill="#7d0505"/>
<circle cx="615.10" cy="115.00" r="1.65" fill="#7d0505"/>
<circle cx="631.50" cy="115.40" r="1.65" fill="#7d0505"/>
<circle cx="620.60" cy="135.50" r="1.65" fill="#7d0505"/>
<circle cx="608.00" cy="139.00" r="1.65" fill="#7d0505"/>
<circle cx="632.10" cy="137.60" r="1.65" fill="#7d0505"/>
<circle cx="634.00" cy="146.00" r="1.65" fill="#7d0505"/>
<circle cx="609.70" cy="148.50" r="1.65" fill="#7d0505"/>
<circle cx="616.70" cy="148.80" r="1.65" fill="#7d0505"/>
<circle cx="623.40" cy="152.20" r="1.65" fill="#7d0505"/>
<circle cx="626.80" cy="153.80" r="1.65" fill="#7d0505"/>
<circle cx="613.40" cy="176.60" r="1.65" fill="#7d0505"/>
<circle cx="618.40" cy="190.30" r="1.65" fill="#7d0505"/>
<circle cx="620.90" cy="194.00" r="1.65" fill="#7d0505"/>
<circle cx="613.40" cy="194.50" r="1.65" fill="#7d0505"/>
<circle cx="654.40" cy="194.50" r="1.65" fill="#7d0505"/>
<text x="626.00" y="78.30" font-size="6.3" text-anchor="start" fill="#262626" font-style="italic">Bach2</text>
<text x="617.60" y="88.30" font-size="6.3" text-anchor="start" fill="#262626" font-style="italic">Itpr2</text>
<text x="616.30" y="97.50" font-size="6.3" text-anchor="start" fill="#262626" font-style="italic">Plcg2</text>
<text x="610.40" y="102.70" font-size="6.3" text-anchor="start" fill="#262626" font-style="italic">Stat1</text>
<text x="616.70" y="114.70" font-size="6.3" text-anchor="start" fill="#262626" font-style="italic">Grb2</text>
<text x="633.80" y="117.70" font-size="6.3" text-anchor="start" fill="#262626" font-style="italic">Ube2d3</text>
<text x="0.00" y="0.00" font-size="6.3" text-anchor="start" fill="#262626" font-style="italic"></text>
<text x="0.00" y="0.00" font-size="6.3" text-anchor="start" fill="#262626" font-style="italic"></text>
<text x="634.00" y="139.20" font-size="6.3" text-anchor="start" fill="#262626" font-style="italic">Gng12</text>
<text x="638.00" y="145.80" font-size="6.3" text-anchor="start" fill="#262626" font-style="italic">Pebp1</text>
<text x="0.00" y="0.00" font-size="6.3" text-anchor="start" fill="#262626" font-style="italic"></text>
<text x="0.00" y="0.00" font-size="6.3" text-anchor="start" fill="#262626" font-style="italic"></text>
<text x="0.00" y="0.00" font-size="6.3" text-anchor="start" fill="#262626" font-style="italic"></text>
<text x="0.00" y="0.00" font-size="6.3" text-anchor="start" fill="#262626" font-style="italic"></text>
<text x="0.00" y="0.00" font-size="6.3" text-anchor="start" fill="#262626" font-style="italic"></text>
<text x="0.00" y="0.00" font-size="6.3" text-anchor="start" fill="#262626" font-style="italic"></text>
<text x="0.00" y="0.00" font-size="6.3" text-anchor="start" fill="#262626" font-style="italic"></text>
<text x="0.00" y="0.00" font-size="6.3" text-anchor="start" fill="#262626" font-style="italic"></text>
<text x="656.00" y="196.70" font-size="6.3" text-anchor="start" fill="#262626" font-style="italic">Rpl34</text>
<line x1="512.50" y1="25.10" x2="512.50" y2="203.00" stroke="#8c8c8c" stroke-width="1.0"/>
<line x1="512.00" y1="202.50" x2="685.00" y2="202.50" stroke="#8c8c8c" stroke-width="1.0"/>
<line x1="508.30" y1="194.50" x2="512.50" y2="194.50" stroke="#555" stroke-width="0.8"/>
<text x="505.30" y="197.20" font-size="7.8" text-anchor="end" fill="#333">0</text>
<line x1="508.30" y1="162.28" x2="512.50" y2="162.28" stroke="#555" stroke-width="0.8"/>
<text x="505.30" y="164.98" font-size="7.8" text-anchor="end" fill="#333">0.2</text>
<line x1="508.30" y1="130.06" x2="512.50" y2="130.06" stroke="#555" stroke-width="0.8"/>
<text x="505.30" y="132.76" font-size="7.8" text-anchor="end" fill="#333">0.4</text>
<line x1="508.30" y1="97.84" x2="512.50" y2="97.84" stroke="#555" stroke-width="0.8"/>
<text x="505.30" y="100.54" font-size="7.8" text-anchor="end" fill="#333">0.6</text>
<line x1="508.30" y1="65.62" x2="512.50" y2="65.62" stroke="#555" stroke-width="0.8"/>
<text x="505.30" y="68.32" font-size="7.8" text-anchor="end" fill="#333">0.8</text>
<line x1="508.30" y1="33.40" x2="512.50" y2="33.40" stroke="#555" stroke-width="0.8"/>
<text x="505.30" y="36.10" font-size="7.8" text-anchor="end" fill="#333">1.0</text>
<line x1="540.10" y1="202.50" x2="540.10" y2="206.10" stroke="#555" stroke-width="0.8"/>
<text x="540.10" y="215.90" font-size="7.8" text-anchor="middle" fill="#333">−1.0</text>
<line x1="568.30" y1="202.50" x2="568.30" y2="206.10" stroke="#555" stroke-width="0.8"/>
<text x="568.30" y="215.90" font-size="7.8" text-anchor="middle" fill="#333">−0.5</text>
<line x1="596.50" y1="202.50" x2="596.50" y2="206.10" stroke="#555" stroke-width="0.8"/>
<text x="596.50" y="215.90" font-size="7.8" text-anchor="middle" fill="#333">0</text>
<line x1="624.70" y1="202.50" x2="624.70" y2="206.10" stroke="#555" stroke-width="0.8"/>
<text x="624.70" y="215.90" font-size="7.8" text-anchor="middle" fill="#333">0.5</text>
<line x1="652.90" y1="202.50" x2="652.90" y2="206.10" stroke="#555" stroke-width="0.8"/>
<text x="652.90" y="215.90" font-size="7.8" text-anchor="middle" fill="#333">1.0</text>
<line x1="681.10" y1="202.50" x2="681.10" y2="206.10" stroke="#555" stroke-width="0.8"/>
<text x="681.10" y="215.90" font-size="7.8" text-anchor="middle" fill="#333">1.5</text>
<text transform="translate(486.70,114.10) rotate(-90)" font-size="8.9" text-anchor="middle" fill="#231f20" textLength="101.9" lengthAdjust="spacingAndGlyphs">Scaled seqlet peak score</text>
<text x="598.20" y="227.20" font-size="8.9" text-anchor="middle" fill="#231f20" textLength="31.8" lengthAdjust="spacingAndGlyphs">log<tspan font-size="5.8" dy="2.2">2</tspan><tspan dy="-2.2">–FC</tspan></text>
<text x="621.80" y="132.00" font-size="6.3" text-anchor="start" fill="#262626" font-style="italic">Calm1</text>
<text x="606.70" y="137.20" font-size="6.3" text-anchor="start" fill="#262626" font-style="italic">Blnk</text>
<text x="615.90" y="146.50" font-size="6.3" text-anchor="start" fill="#262626" font-style="italic">Rfc4</text>
<text x="628.40" y="152.20" font-size="6.3" text-anchor="start" fill="#262626" font-style="italic">Lyn</text>
<text x="606.40" y="155.40" font-size="6.3" text-anchor="start" fill="#262626" font-style="italic">Ccnd3</text>
<text x="631.80" y="159.40" font-size="6.3" text-anchor="start" fill="#262626" font-style="italic">Dhfr</text>
<text x="616.00" y="176.20" font-size="6.3" text-anchor="start" fill="#262626" font-style="italic">Rfc1</text>
<text x="613.00" y="187.80" font-size="6.3" text-anchor="start" fill="#262626" font-style="italic">Bcl6</text>
<text x="626.00" y="187.80" font-size="6.3" text-anchor="start" fill="#262626" font-style="italic">Aurkb</text>
<text x="626.00" y="194.50" font-size="6.3" text-anchor="start" fill="#262626" font-style="italic">Fbxo5</text>
<text x="608.40" y="200.50" font-size="6.3" text-anchor="start" fill="#262626" font-style="italic">Cdk1</text>
<text x="622.60" y="201.40" font-size="6.3" text-anchor="start" fill="#262626" font-style="italic">Pold4</text>
<circle cx="340.60" cy="240.40" r="2.9" fill="#a9b1f5"/>
<text x="347.30" y="243.60" font-size="8.9" text-anchor="start" fill="#231f20" textLength="117.9" lengthAdjust="spacingAndGlyphs">Downregulated in <tspan font-style="italic">Prdm1</tspan> cKO</text>
<circle cx="493.40" cy="240.40" r="2.9" fill="#ee1c25"/>
<text x="501.30" y="244.00" font-size="8.9" text-anchor="start" fill="#231f20" textLength="106.0" lengthAdjust="spacingAndGlyphs">Upregulated in <tspan font-style="italic">Prdm1</tspan> cKO</text>
<line x1="107.50" y1="273.80" x2="107.50" y2="374.00" stroke="#8c8c8c" stroke-width="1.0"/>
<line x1="107.00" y1="373.50" x2="311.80" y2="373.50" stroke="#8c8c8c" stroke-width="1.0"/>
<rect x="107.50" y="280.50" width="157.20" height="12.00" fill="#00ffff" stroke="#3a3a3a" stroke-width="0.6"/>
<line x1="103.70" y1="286.50" x2="107.50" y2="286.50" stroke="#555" stroke-width="0.8"/>
<text x="99.90" y="289.00" font-size="8.8" text-anchor="end" fill="#231f20" textLength="40" lengthAdjust="spacingAndGlyphs">Cell cycle</text>
<text x="110.90" y="289.30" font-size="8.8" text-anchor="start" fill="#111" textLength="73.6" lengthAdjust="spacingAndGlyphs" font-style="italic">Ccna2 Cdk1 Fbxo5</text>
<rect x="107.50" y="299.25" width="128.50" height="12.00" fill="#00ffff" stroke="#3a3a3a" stroke-width="0.6"/>
<line x1="103.70" y1="305.25" x2="107.50" y2="305.25" stroke="#555" stroke-width="0.8"/>
<text x="99.90" y="307.75" font-size="8.8" text-anchor="end" fill="#231f20" textLength="58.7" lengthAdjust="spacingAndGlyphs">G1/S transition</text>
<text x="110.90" y="308.05" font-size="8.8" text-anchor="start" fill="#111" textLength="65.5" lengthAdjust="spacingAndGlyphs" font-style="italic">Rrm2 Dhfr Pold4</text>
<rect x="107.50" y="318.00" width="117.20" height="12.00" fill="#00ffff" stroke="#3a3a3a" stroke-width="0.6"/>
<line x1="103.70" y1="324.00" x2="107.50" y2="324.00" stroke="#555" stroke-width="0.8"/>
<text x="99.90" y="326.50" font-size="8.8" text-anchor="end" fill="#231f20" textLength="63.1" lengthAdjust="spacingAndGlyphs">DNA replication</text>
<text x="110.90" y="326.80" font-size="8.8" text-anchor="start" fill="#111" textLength="45" lengthAdjust="spacingAndGlyphs" font-style="italic">Mcm3 Rfc4</text>
<rect x="107.50" y="336.75" width="87.10" height="12.00" fill="#00ffff" stroke="#3a3a3a" stroke-width="0.6"/>
<line x1="103.70" y1="342.75" x2="107.50" y2="342.75" stroke="#555" stroke-width="0.8"/>
<text x="99.90" y="345.25" font-size="8.8" text-anchor="end" fill="#231f20" textLength="78.2" lengthAdjust="spacingAndGlyphs">Signal transduction</text>
<text x="110.90" y="345.55" font-size="8.8" text-anchor="start" fill="#111" textLength="80.8" lengthAdjust="spacingAndGlyphs" font-style="italic">Stat1 Ube2d3 Mapk1</text>
<rect x="107.50" y="355.50" width="82.00" height="12.00" fill="#00ffff" stroke="#3a3a3a" stroke-width="0.6"/>
<line x1="103.70" y1="361.50" x2="107.50" y2="361.50" stroke="#555" stroke-width="0.8"/>
<text x="99.90" y="364.00" font-size="8.8" text-anchor="end" fill="#231f20" textLength="55.7" lengthAdjust="spacingAndGlyphs">BCR signaling</text>
<text x="110.90" y="364.30" font-size="8.8" text-anchor="start" fill="#111" textLength="44.4" lengthAdjust="spacingAndGlyphs" font-style="italic">Blnk Calm1</text>
<line x1="107.30" y1="373.50" x2="107.30" y2="377.20" stroke="#555" stroke-width="0.8"/>
<text x="102.10" y="388.30" font-size="7.8" text-anchor="start" fill="#333">10<tspan font-size="4.3" dy="-3.5">0</tspan></text>
<line x1="158.40" y1="373.50" x2="158.40" y2="377.20" stroke="#555" stroke-width="0.8"/>
<text x="153.20" y="388.30" font-size="7.8" text-anchor="start" fill="#333">10<tspan font-size="4.3" dy="-3.5">−5</tspan></text>
<line x1="209.60" y1="373.50" x2="209.60" y2="377.20" stroke="#555" stroke-width="0.8"/>
<text x="204.40" y="388.30" font-size="7.8" text-anchor="start" fill="#333">10<tspan font-size="4.3" dy="-3.5">−10</tspan></text>
<line x1="260.50" y1="373.50" x2="260.50" y2="377.20" stroke="#555" stroke-width="0.8"/>
<text x="255.30" y="388.30" font-size="7.8" text-anchor="start" fill="#333">10<tspan font-size="4.3" dy="-3.5">−15</tspan></text>
<line x1="311.30" y1="373.50" x2="311.30" y2="377.20" stroke="#555" stroke-width="0.8"/>
<text x="306.10" y="388.30" font-size="7.8" text-anchor="start" fill="#333">10<tspan font-size="4.3" dy="-3.5">−20</tspan></text>
<text x="209.80" y="401.00" font-size="8.8" text-anchor="middle" fill="#231f20" textLength="32.8" lengthAdjust="spacingAndGlyphs"><tspan font-style="italic">P</tspan> values</text>
<line x1="455.70" y1="273.30" x2="455.70" y2="374.90" stroke="#8c8c8c" stroke-width="1.0"/>
<line x1="455.20" y1="374.40" x2="659.30" y2="374.40" stroke="#8c8c8c" stroke-width="1.0"/>
<rect x="455.70" y="280.00" width="170.80" height="12.10" fill="#41bc58" stroke="#3a3a3a" stroke-width="0.6"/>
<line x1="451.90" y1="286.05" x2="455.70" y2="286.05" stroke="#555" stroke-width="0.8"/>
<text x="448.10" y="288.55" font-size="8.8" text-anchor="end" fill="#231f20" textLength="55.5" lengthAdjust="spacingAndGlyphs">BCR signaling</text>
<text x="459.70" y="288.85" font-size="8.8" text-anchor="start" fill="#111" textLength="108.6" lengthAdjust="spacingAndGlyphs" font-style="italic">Syk Lyn Nfkbia Itpr2* Grb2*</text>
<rect x="455.70" y="298.90" width="161.70" height="12.10" fill="#41bc58" stroke="#3a3a3a" stroke-width="0.6"/>
<line x1="451.90" y1="304.95" x2="455.70" y2="304.95" stroke="#555" stroke-width="0.8"/>
<text x="448.10" y="307.45" font-size="8.8" text-anchor="end" fill="#231f20" textLength="39.4" lengthAdjust="spacingAndGlyphs">Cell cycle</text>
<text x="459.70" y="307.75" font-size="8.8" text-anchor="start" fill="#111" textLength="79.9" lengthAdjust="spacingAndGlyphs" font-style="italic">Ccnd3 Cdc6 Aurkb*</text>
<rect x="455.70" y="317.80" width="139.30" height="12.10" fill="#41bc58" stroke="#3a3a3a" stroke-width="0.6"/>
<line x1="451.90" y1="323.85" x2="455.70" y2="323.85" stroke="#555" stroke-width="0.8"/>
<text x="448.10" y="326.35" font-size="8.8" text-anchor="end" fill="#231f20" textLength="78" lengthAdjust="spacingAndGlyphs">Signal transduction</text>
<text x="459.70" y="326.65" font-size="8.8" text-anchor="start" fill="#111" textLength="127.2" lengthAdjust="spacingAndGlyphs" font-style="italic">Camk2d Plcg2 Csk Cybb* Ptprj*</text>
<rect x="455.70" y="336.70" width="100.40" height="12.10" fill="#41bc58" stroke="#3a3a3a" stroke-width="0.6"/>
<line x1="451.90" y1="342.75" x2="455.70" y2="342.75" stroke="#555" stroke-width="0.8"/>
<text x="448.10" y="345.25" font-size="8.8" text-anchor="end" fill="#231f20" textLength="59.4" lengthAdjust="spacingAndGlyphs">G1–S transition</text>
<text x="459.70" y="345.55" font-size="8.8" text-anchor="start" fill="#111" textLength="55.4" lengthAdjust="spacingAndGlyphs" font-style="italic">Rbbp4 Psmc2</text>
<rect x="455.70" y="355.60" width="72.10" height="12.10" fill="#41bc58" stroke="#3a3a3a" stroke-width="0.6"/>
<line x1="451.90" y1="361.65" x2="455.70" y2="361.65" stroke="#555" stroke-width="0.8"/>
<text x="448.10" y="364.15" font-size="8.8" text-anchor="end" fill="#231f20" textLength="63.1" lengthAdjust="spacingAndGlyphs">DNA replication</text>
<text x="459.70" y="364.45" font-size="8.8" text-anchor="start" fill="#111" textLength="34.3" lengthAdjust="spacingAndGlyphs" font-style="italic">Lig1 Rfc1</text>
<line x1="455.80" y1="374.40" x2="455.80" y2="378.10" stroke="#555" stroke-width="0.8"/>
<text x="450.60" y="388.30" font-size="7.8" text-anchor="start" fill="#333">10<tspan font-size="4.3" dy="-3.5">0</tspan></text>
<line x1="506.60" y1="374.40" x2="506.60" y2="378.10" stroke="#555" stroke-width="0.8"/>
<text x="501.40" y="388.30" font-size="7.8" text-anchor="start" fill="#333">10<tspan font-size="4.3" dy="-3.5">−1</tspan></text>
<line x1="557.50" y1="374.40" x2="557.50" y2="378.10" stroke="#555" stroke-width="0.8"/>
<text x="552.30" y="388.30" font-size="7.8" text-anchor="start" fill="#333">10<tspan font-size="4.3" dy="-3.5">−2</tspan></text>
<line x1="608.30" y1="374.40" x2="608.30" y2="378.10" stroke="#555" stroke-width="0.8"/>
<text x="603.10" y="388.30" font-size="7.8" text-anchor="start" fill="#333">10<tspan font-size="4.3" dy="-3.5">−3</tspan></text>
<line x1="659.10" y1="374.40" x2="659.10" y2="378.10" stroke="#555" stroke-width="0.8"/>
<text x="653.90" y="388.30" font-size="7.8" text-anchor="start" fill="#333">10<tspan font-size="4.3" dy="-3.5">−4</tspan></text>
<text x="557.80" y="401.00" font-size="8.8" text-anchor="middle" fill="#231f20" textLength="32.8" lengthAdjust="spacingAndGlyphs"><tspan font-style="italic">P</tspan> values</text>
<path d="M28.3,458 C28.5,453 33,448.5 38.7,448 C43,447.2 50,447.6 54.8,449.5 C57,450.3 59,451.2 61,452.3 C62,450 63.2,448.6 64.3,448.6 C66,449 67,452 66.7,456.6 C67.5,460 67.4,464 66.7,466.1 C65.8,470 63.5,475.5 61.5,478 C60.5,479.2 59.5,479.6 58.6,479.4 C57.3,479.3 56.4,478.8 55.8,478 C54.8,476.8 53.8,475.4 53,474.2 C52,472.5 51,471.2 50.1,470.4 C47.5,469 45.5,468.7 43.5,468.5 C40.5,468 38,467.4 35.9,466.6 C33.5,465.8 31.5,465 30.2,463.7 C28.8,462.2 28.1,460 28.3,458 Z" fill="#1a1a1a"/>
<path d="M28.6,460 C25.5,463.5 22,469 21.3,473.5 C20.8,478 23.5,481.8 27.3,482.7 C31,483.6 36,483.6 39.7,484.6 C40.8,484.9 41.6,485.2 42.2,485.7" fill="none" stroke="#1a1a1a" stroke-width="1.5" stroke-linecap="round"/>
<path d="M66.5,466.8 C68.3,466.6 70,467.3 71.3,468.8 M69.2,467.6 L69.6,470.4" fill="none" stroke="#1a1a1a" stroke-width="0.9"/>
<path d="M40,468.3 C43,469.2 46,469.5 49,470.3" fill="none" stroke="#fff" stroke-width="0.5" opacity="0.8"/>
<path d="M45.8,469.2 L49.5,468.6 L52.8,471.4 L52.6,476.6 L50.6,476.2 L49.2,474.6 L47.2,472.6 Z" fill="#1a1a1a"/>
<path d="M46.8,470.6 L49.6,472.4 M48.6,473.2 L50.8,474.2" fill="none" stroke="#fff" stroke-width="0.45" opacity="0.85"/>
<path d="M44.6,453.2 L45.2,455.4" stroke="#ccc" stroke-width="0.6"/>
<text x="75.90" y="450.20" font-size="8.6" text-anchor="start" fill="#231f20" textLength="12.4" lengthAdjust="spacingAndGlyphs">WT</text>
<text x="75.90" y="469.80" font-size="8.6" text-anchor="start" fill="#231f20" textLength="44.1" lengthAdjust="spacingAndGlyphs"><tspan font-style="italic">Prdm1</tspan> cKO</text>
<line x1="33.30" y1="499.60" x2="178.60" y2="499.60" stroke="#222" stroke-width="0.9"/>
<line x1="33.30" y1="492.50" x2="33.30" y2="505.30" stroke="#222" stroke-width="0.9"/>
<line x1="178.60" y1="493.40" x2="178.60" y2="505.80" stroke="#222" stroke-width="0.9"/>
<text x="33.30" y="515.80" font-size="8.6" text-anchor="middle" fill="#231f20">0</text>
<path d="M30.8,518.2 L35.8,518.2 L33.3,522.6 Z" fill="#111"/>
<text x="180.90" y="516.30" font-size="8.6" text-anchor="middle" fill="#231f20" textLength="31" lengthAdjust="spacingAndGlyphs">14 d.p.i.</text>
<path d="M174.2,520.0 L179.2,520.0 L176.7,524.3 Z" fill="#111"/>
<text x="42.90" y="536.80" font-size="8.6" text-anchor="middle" fill="#231f20" textLength="85.8" lengthAdjust="spacingAndGlyphs">NP-CGG + alum + LPS</text>
<text x="42.75" y="546.80" font-size="8.6" text-anchor="middle" fill="#231f20" textLength="74.9" lengthAdjust="spacingAndGlyphs">immunization (i.p.)</text>
<text x="173.45" y="538.10" font-size="8.6" text-anchor="middle" fill="#231f20" textLength="79.5" lengthAdjust="spacingAndGlyphs">Collect splenocytes</text>
<line x1="175.80" y1="544.30" x2="175.80" y2="557.50" stroke="#222" stroke-width="0.8"/>
<path d="M174.3,556.6 L177.3,556.6 L175.8,560.6 Z" fill="#222"/>
<text x="172.60" y="570.10" font-size="8.6" text-anchor="middle" fill="#231f20" textLength="66.6" lengthAdjust="spacingAndGlyphs">FACS analysis of</text>
<text x="173.00" y="581.40" font-size="8.6" text-anchor="middle" fill="#231f20" textLength="86.4" lengthAdjust="spacingAndGlyphs">basal phosphorylated</text>
<text x="171.80" y="591.70" font-size="8.6" text-anchor="middle" fill="#231f20" textLength="53.2" lengthAdjust="spacingAndGlyphs">SYK/LYN/BTK</text>
<text x="173.25" y="601.90" font-size="8.6" text-anchor="middle" fill="#231f20" textLength="77.1" lengthAdjust="spacingAndGlyphs">levels in GC B cells</text>
<line x1="283.50" y1="426.80" x2="283.50" y2="634.00" stroke="#8c8c8c" stroke-width="1.0"/>
<line x1="283.00" y1="633.50" x2="374.90" y2="633.50" stroke="#8c8c8c" stroke-width="1.0"/>
<line x1="279.70" y1="633.50" x2="283.50" y2="633.50" stroke="#555" stroke-width="0.8"/>
<text x="276.40" y="636.40" font-size="8.0" text-anchor="end" fill="#333">0</text>
<line x1="279.70" y1="581.83" x2="283.50" y2="581.83" stroke="#555" stroke-width="0.8"/>
<text x="276.40" y="584.73" font-size="8.0" text-anchor="end" fill="#333">4</text>
<line x1="279.70" y1="530.15" x2="283.50" y2="530.15" stroke="#555" stroke-width="0.8"/>
<text x="276.40" y="533.05" font-size="8.0" text-anchor="end" fill="#333">8</text>
<line x1="279.70" y1="478.48" x2="283.50" y2="478.48" stroke="#555" stroke-width="0.8"/>
<text x="276.40" y="481.38" font-size="8.0" text-anchor="end" fill="#333">12</text>
<line x1="279.70" y1="426.80" x2="283.50" y2="426.80" stroke="#555" stroke-width="0.8"/>
<text x="276.40" y="429.70" font-size="8.0" text-anchor="end" fill="#333">16</text>
<rect x="293.40" y="604.40" width="29.30" height="29.10" fill="#d9d9d9" stroke="#555" stroke-width="0.6"/>
<rect x="336.10" y="535.50" width="28.70" height="98.00" fill="#f46a8b" stroke="#555" stroke-width="0.6"/>
<circle cx="308.10" cy="588.30" r="1.95" fill="#000"/>
<circle cx="299.70" cy="594.10" r="1.95" fill="#000"/>
<circle cx="316.60" cy="594.90" r="1.95" fill="#000"/>
<circle cx="308.10" cy="597.10" r="1.95" fill="#000"/>
<circle cx="308.10" cy="605.00" r="1.95" fill="#000"/>
<circle cx="308.10" cy="609.40" r="1.95" fill="#000"/>
<circle cx="299.70" cy="617.10" r="1.95" fill="#000"/>
<circle cx="308.10" cy="615.50" r="1.95" fill="#000"/>
<circle cx="316.60" cy="616.10" r="1.95" fill="#000"/>
<rect x="348.30" y="491.90" width="3.80" height="3.80" fill="#000"/>
<rect x="348.30" y="503.60" width="3.80" height="3.80" fill="#000"/>
<rect x="344.30" y="517.50" width="3.80" height="3.80" fill="#000"/>
<rect x="352.60" y="516.40" width="3.80" height="3.80" fill="#000"/>
<rect x="348.30" y="531.90" width="3.80" height="3.80" fill="#000"/>
<rect x="348.30" y="538.30" width="3.80" height="3.80" fill="#000"/>
<rect x="348.30" y="547.90" width="3.80" height="3.80" fill="#000"/>
<rect x="344.30" y="553.80" width="3.80" height="3.80" fill="#000"/>
<rect x="352.60" y="557.50" width="3.80" height="3.80" fill="#000"/>
<rect x="348.40" y="572.80" width="3.80" height="3.80" fill="#000"/>
<line x1="308.05" y1="633.50" x2="308.05" y2="637.50" stroke="#555" stroke-width="0.8"/>
<line x1="350.45" y1="633.50" x2="350.45" y2="637.50" stroke="#555" stroke-width="0.8"/>
<text x="308.05" y="647.40" font-size="8.6" text-anchor="middle" fill="#231f20" textLength="11.6" lengthAdjust="spacingAndGlyphs">WT</text>
<text x="350.45" y="647.40" font-size="8.6" text-anchor="middle" fill="#231f20" textLength="23.8" lengthAdjust="spacingAndGlyphs" font-style="italic">Prdm1</text>
<text x="350.45" y="657.50" font-size="8.6" text-anchor="middle" fill="#231f20" textLength="17.2" lengthAdjust="spacingAndGlyphs">cKO</text>
<line x1="309.80" y1="445.50" x2="351.30" y2="445.50" stroke="#555" stroke-width="1.0"/>
<text x="330.20" y="442.20" font-size="7.2" text-anchor="middle" fill="#231f20" textLength="36.6" lengthAdjust="spacingAndGlyphs"><tspan font-style="italic">P</tspan> &lt; 0.0001</text>
<text transform="translate(262.80,530.00) rotate(-90)" font-size="8.3" text-anchor="middle" fill="#231f20" textLength="147" lengthAdjust="spacingAndGlyphs">pSYK<tspan font-size="5.2" dy="-3">hi</tspan><tspan dy="3"> (Y319) in B220</tspan><tspan font-size="5.2" dy="-3">+</tspan><tspan dy="3">CD95</tspan><tspan font-size="5.2" dy="-3">+</tspan><tspan dy="3">GL7</tspan><tspan font-size="5.2" dy="-3">+</tspan><tspan dy="3"> (%)</tspan></text>
<line x1="438.00" y1="426.30" x2="438.00" y2="634.00" stroke="#8c8c8c" stroke-width="1.0"/>
<line x1="437.50" y1="633.50" x2="529.60" y2="633.50" stroke="#8c8c8c" stroke-width="1.0"/>
<line x1="434.20" y1="633.50" x2="438.00" y2="633.50" stroke="#555" stroke-width="0.8"/>
<text x="430.90" y="636.40" font-size="8.0" text-anchor="end" fill="#333">0</text>
<line x1="434.20" y1="581.70" x2="438.00" y2="581.70" stroke="#555" stroke-width="0.8"/>
<text x="430.90" y="584.60" font-size="8.0" text-anchor="end" fill="#333">2.5</text>
<line x1="434.20" y1="529.90" x2="438.00" y2="529.90" stroke="#555" stroke-width="0.8"/>
<text x="430.90" y="532.80" font-size="8.0" text-anchor="end" fill="#333">5.0</text>
<line x1="434.20" y1="478.10" x2="438.00" y2="478.10" stroke="#555" stroke-width="0.8"/>
<text x="430.90" y="481.00" font-size="8.0" text-anchor="end" fill="#333">7.5</text>
<line x1="434.20" y1="426.30" x2="438.00" y2="426.30" stroke="#555" stroke-width="0.8"/>
<text x="430.90" y="429.20" font-size="8.0" text-anchor="end" fill="#333">10.0</text>
<rect x="447.80" y="604.70" width="29.80" height="28.80" fill="#d9d9d9" stroke="#555" stroke-width="0.6"/>
<rect x="490.40" y="541.00" width="29.00" height="92.50" fill="#f46a8b" stroke="#555" stroke-width="0.6"/>
<circle cx="462.40" cy="593.40" r="1.95" fill="#000"/>
<circle cx="466.80" cy="598.00" r="1.95" fill="#000"/>
<circle cx="449.70" cy="601.80" r="1.95" fill="#000"/>
<circle cx="458.20" cy="600.70" r="1.95" fill="#000"/>
<circle cx="466.80" cy="602.40" r="1.95" fill="#000"/>
<circle cx="475.30" cy="601.40" r="1.95" fill="#000"/>
<circle cx="458.20" cy="606.20" r="1.95" fill="#000"/>
<circle cx="458.20" cy="618.90" r="1.95" fill="#000"/>
<circle cx="466.80" cy="617.90" r="1.95" fill="#000"/>
<rect x="502.60" y="465.50" width="3.80" height="3.80" fill="#000"/>
<rect x="502.60" y="480.90" width="3.80" height="3.80" fill="#000"/>
<rect x="502.60" y="517.70" width="3.80" height="3.80" fill="#000"/>
<rect x="502.60" y="523.60" width="3.80" height="3.80" fill="#000"/>
<rect x="502.60" y="538.50" width="3.80" height="3.80" fill="#000"/>
<rect x="502.60" y="550.00" width="3.80" height="3.80" fill="#000"/>
<rect x="498.70" y="569.80" width="3.80" height="3.80" fill="#000"/>
<rect x="506.80" y="566.60" width="3.80" height="3.80" fill="#000"/>
<rect x="503.00" y="580.50" width="3.80" height="3.80" fill="#000"/>
<rect x="503.00" y="596.10" width="3.80" height="3.80" fill="#000"/>
<line x1="462.70" y1="633.50" x2="462.70" y2="637.50" stroke="#555" stroke-width="0.8"/>
<line x1="504.90" y1="633.50" x2="504.90" y2="637.50" stroke="#555" stroke-width="0.8"/>
<text x="462.70" y="647.40" font-size="8.6" text-anchor="middle" fill="#231f20" textLength="11.6" lengthAdjust="spacingAndGlyphs">WT</text>
<text x="504.90" y="647.40" font-size="8.6" text-anchor="middle" fill="#231f20" textLength="23.8" lengthAdjust="spacingAndGlyphs" font-style="italic">Prdm1</text>
<text x="504.90" y="657.50" font-size="8.6" text-anchor="middle" fill="#231f20" textLength="17.2" lengthAdjust="spacingAndGlyphs">cKO</text>
<line x1="463.40" y1="445.50" x2="504.80" y2="445.50" stroke="#555" stroke-width="1.0"/>
<text x="485.60" y="442.20" font-size="7.2" text-anchor="middle" fill="#231f20" textLength="37.4" lengthAdjust="spacingAndGlyphs"><tspan font-style="italic">P</tspan> = 0.0004</text>
<text transform="translate(412.20,529.60) rotate(-90)" font-size="8.3" text-anchor="middle" fill="#231f20" textLength="147" lengthAdjust="spacingAndGlyphs">pLYN<tspan font-size="5.2" dy="-3">hi</tspan><tspan dy="3"> (Y507) in B220</tspan><tspan font-size="5.2" dy="-3">+</tspan><tspan dy="3">CD95</tspan><tspan font-size="5.2" dy="-3">+</tspan><tspan dy="3">GL7</tspan><tspan font-size="5.2" dy="-3">+</tspan><tspan dy="3"> (%)</tspan></text>
<line x1="591.90" y1="426.50" x2="591.90" y2="634.90" stroke="#8c8c8c" stroke-width="1.0"/>
<line x1="591.40" y1="634.40" x2="683.00" y2="634.40" stroke="#8c8c8c" stroke-width="1.0"/>
<line x1="588.10" y1="634.40" x2="591.90" y2="634.40" stroke="#555" stroke-width="0.8"/>
<text x="584.80" y="637.30" font-size="8.0" text-anchor="end" fill="#333">0</text>
<line x1="588.10" y1="582.42" x2="591.90" y2="582.42" stroke="#555" stroke-width="0.8"/>
<text x="584.80" y="585.32" font-size="8.0" text-anchor="end" fill="#333">4</text>
<line x1="588.10" y1="530.45" x2="591.90" y2="530.45" stroke="#555" stroke-width="0.8"/>
<text x="584.80" y="533.35" font-size="8.0" text-anchor="end" fill="#333">8</text>
<line x1="588.10" y1="478.48" x2="591.90" y2="478.48" stroke="#555" stroke-width="0.8"/>
<text x="584.80" y="481.38" font-size="8.0" text-anchor="end" fill="#333">12</text>
<line x1="588.10" y1="426.50" x2="591.90" y2="426.50" stroke="#555" stroke-width="0.8"/>
<text x="584.80" y="429.40" font-size="8.0" text-anchor="end" fill="#333">16</text>
<rect x="602.60" y="580.50" width="29.00" height="53.90" fill="#d9d9d9" stroke="#555" stroke-width="0.6"/>
<rect x="644.60" y="510.40" width="28.60" height="124.00" fill="#f46a8b" stroke="#555" stroke-width="0.6"/>
<circle cx="616.90" cy="552.10" r="1.95" fill="#000"/>
<circle cx="608.80" cy="574.50" r="1.95" fill="#000"/>
<circle cx="616.90" cy="575.50" r="1.95" fill="#000"/>
<circle cx="625.40" cy="573.80" r="1.95" fill="#000"/>
<circle cx="616.90" cy="581.90" r="1.95" fill="#000"/>
<circle cx="608.80" cy="588.30" r="1.95" fill="#000"/>
<circle cx="616.90" cy="591.30" r="1.95" fill="#000"/>
<circle cx="625.40" cy="592.30" r="1.95" fill="#000"/>
<circle cx="608.80" cy="594.70" r="1.95" fill="#000"/>
<rect x="656.50" y="471.90" width="3.80" height="3.80" fill="#000"/>
<rect x="652.70" y="484.70" width="3.80" height="3.80" fill="#000"/>
<rect x="661.20" y="484.70" width="3.80" height="3.80" fill="#000"/>
<rect x="652.70" y="500.00" width="3.80" height="3.80" fill="#000"/>
<rect x="661.20" y="502.80" width="3.80" height="3.80" fill="#000"/>
<rect x="652.70" y="506.20" width="3.80" height="3.80" fill="#000"/>
<rect x="656.50" y="521.90" width="3.80" height="3.80" fill="#000"/>
<rect x="652.70" y="533.00" width="3.80" height="3.80" fill="#000"/>
<rect x="661.20" y="534.70" width="3.80" height="3.80" fill="#000"/>
<rect x="656.50" y="543.20" width="3.80" height="3.80" fill="#000"/>
<line x1="617.10" y1="634.40" x2="617.10" y2="638.40" stroke="#555" stroke-width="0.8"/>
<line x1="658.90" y1="634.40" x2="658.90" y2="638.40" stroke="#555" stroke-width="0.8"/>
<text x="617.10" y="647.40" font-size="8.6" text-anchor="middle" fill="#231f20" textLength="11.6" lengthAdjust="spacingAndGlyphs">WT</text>
<text x="658.90" y="647.40" font-size="8.6" text-anchor="middle" fill="#231f20" textLength="23.8" lengthAdjust="spacingAndGlyphs" font-style="italic">Prdm1</text>
<text x="658.90" y="657.50" font-size="8.6" text-anchor="middle" fill="#231f20" textLength="17.2" lengthAdjust="spacingAndGlyphs">cKO</text>
<line x1="615.40" y1="445.50" x2="657.50" y2="445.50" stroke="#555" stroke-width="1.0"/>
<text x="638.20" y="442.20" font-size="7.2" text-anchor="middle" fill="#231f20" textLength="36.7" lengthAdjust="spacingAndGlyphs"><tspan font-style="italic">P</tspan> &lt; 0.0001</text>
<text transform="translate(574.20,531.40) rotate(-90)" font-size="8.3" text-anchor="middle" fill="#231f20" textLength="147" lengthAdjust="spacingAndGlyphs">pBTK<tspan font-size="5.2" dy="-3">hi</tspan><tspan dy="3"> (Y223) in B220</tspan><tspan font-size="5.2" dy="-3">+</tspan><tspan dy="3">CD95</tspan><tspan font-size="5.2" dy="-3">+</tspan><tspan dy="3">GL7</tspan><tspan font-size="5.2" dy="-3">+</tspan><tspan dy="3"> (%)</tspan></text>
</svg>
</body></html>
